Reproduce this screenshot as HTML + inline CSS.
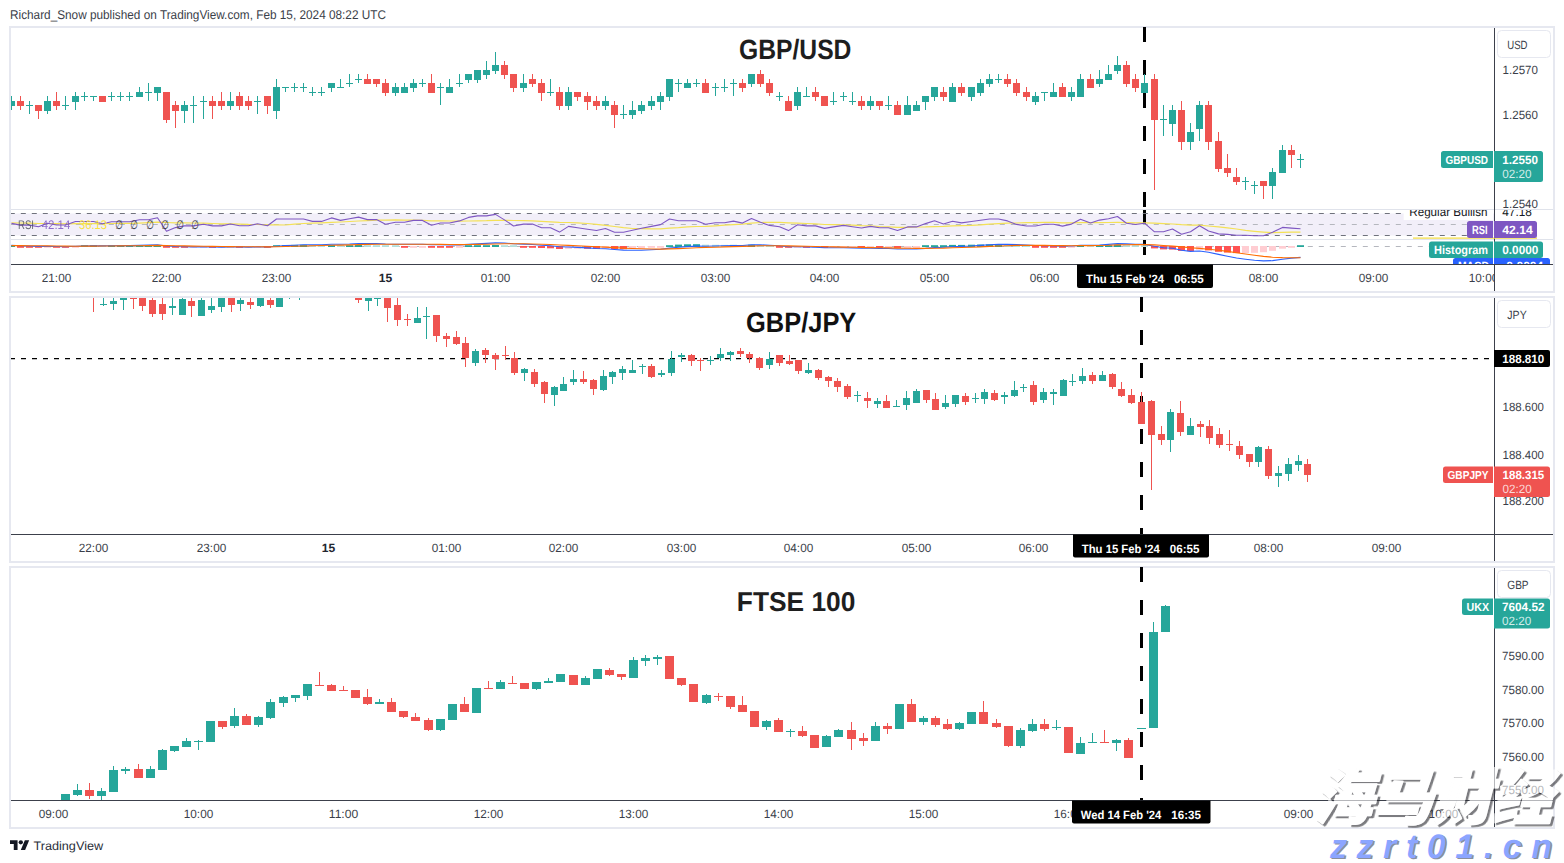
<!DOCTYPE html>
<html lang="en"><head><meta charset="utf-8"><title>GBP/USD, GBP/JPY, FTSE 100 - TradingView</title>
<style>html,body{margin:0;padding:0;background:#fff}svg{display:block}text{text-rendering:geometricPrecision}</style></head>
<body>
<svg width="1564" height="863" viewBox="0 0 1564 863" font-family='"Liberation Sans", sans-serif'>
<rect width="1564" height="863" fill="#fff"/>
<defs>
<clipPath id="c1"><rect x="11" y="28" width="1483" height="181"/></clipPath>
<clipPath id="c1r"><rect x="11" y="210" width="1483" height="29"/></clipPath>
<clipPath id="c1m"><rect x="11" y="240" width="1483" height="24"/></clipPath>
<clipPath id="c1a"><rect x="1495" y="28" width="58" height="181.5"/></clipPath>
<clipPath id="c1ra"><rect x="1400" y="210" width="153" height="29.5"/></clipPath>
<clipPath id="c1ma"><rect x="1400" y="240" width="153" height="24"/></clipPath>
<clipPath id="c1t"><rect x="11" y="265" width="1483" height="26"/></clipPath>
<clipPath id="c2"><rect x="11" y="298" width="1483" height="236"/></clipPath>
<clipPath id="c2t"><rect x="11" y="535" width="1483" height="26"/></clipPath>
<clipPath id="c3t"><rect x="11" y="801" width="1483" height="26"/></clipPath>
<clipPath id="c3"><rect x="11" y="568" width="1483" height="232"/></clipPath>
</defs>
<text x="10.0" y="19.2" font-size="12.6" fill="#3a3e48" textLength="376.0" lengthAdjust="spacingAndGlyphs">Richard_Snow published on TradingView.com, Feb 15, 2024 08:22 UTC</text>
<rect x="10" y="27" width="1544" height="265" fill="#fff" stroke="#e6e8f0" stroke-width="2"/>
<rect x="11" y="209" width="1542" height="1" fill="#e0e3eb"/>
<rect x="11" y="239" width="1542" height="1" fill="#e0e3eb"/>
<rect x="11" y="213.5" width="1483" height="22" fill="#f2eff9"/>
<rect x="1143" y="210" width="3" height="15" fill="#000"/>
<rect x="1143" y="240" width="3" height="15" fill="#000"/>
<g clip-path="url(#c1r)">
<line x1="11" y1="213.5" x2="1494" y2="213.5" stroke="#6f727c" stroke-width="1" stroke-dasharray="5 6" stroke-dashoffset="1.2"/>
<line x1="11" y1="224.5" x2="1494" y2="224.5" stroke="#b5b7be" stroke-width="1" stroke-dasharray="5 6" stroke-dashoffset="1.2"/>
<line x1="11" y1="235.5" x2="1494" y2="235.5" stroke="#6f727c" stroke-width="1" stroke-dasharray="5 6" stroke-dashoffset="1.2"/>
</g>
<g clip-path="url(#c1r)" fill="none" stroke-linejoin="round">
<polyline points="11.5,222.9 20.5,223.0 29.5,223.2 38.5,223.5 47.5,223.5 56.5,223.7 65.5,223.8 75.5,223.7 84.5,223.6 93.5,223.5 102.5,223.6 111.5,223.5 120.5,223.4 129.5,223.4 139.5,223.1 148.5,222.7 157.5,222.2 166.5,222.5 175.5,222.8 184.5,222.9 193.5,223.0 203.5,223.2 212.5,223.5 221.5,223.8 230.5,223.8 239.5,224.1 248.5,224.4 257.5,224.5 267.5,224.9 276.5,224.9 285.5,225.0 294.5,224.1 303.5,223.5 312.5,223.2 321.5,222.8 331.5,222.4 340.5,222.0 349.5,221.5 358.5,221.0 367.5,220.6 376.5,220.1 385.5,220.2 395.5,219.9 404.5,220.1 413.5,220.2 422.5,220.3 431.5,220.8 440.5,220.9 449.5,221.0 459.5,221.2 468.5,221.0 477.5,220.8 486.5,220.7 495.5,220.4 504.5,220.4 513.5,220.5 523.5,220.6 532.5,220.8 541.5,221.3 550.5,221.8 559.5,222.3 568.5,222.5 577.5,222.9 587.5,223.5 596.5,224.4 605.5,225.3 614.5,226.5 623.5,227.7 632.5,228.5 641.5,228.6 651.5,228.8 660.5,228.9 669.5,228.2 678.5,227.7 687.5,226.9 696.5,226.5 705.5,226.3 715.5,225.8 724.5,225.2 733.5,224.7 742.5,224.1 751.5,223.1 760.5,222.5 769.5,222.3 779.5,222.3 788.5,222.8 797.5,223.2 806.5,223.5 815.5,223.9 824.5,224.5 833.5,224.6 843.5,224.8 852.5,225.1 861.5,225.6 870.5,225.8 879.5,226.5 888.5,226.9 897.5,227.3 907.5,227.3 916.5,227.0 925.5,226.9 934.5,226.6 943.5,226.4 952.5,225.9 961.5,225.6 971.5,225.4 980.5,224.9 989.5,224.2 998.5,223.7 1007.5,223.2 1016.5,223.0 1026.5,222.7 1035.5,222.6 1044.5,222.4 1053.5,222.4 1062.5,222.8 1071.5,222.8 1080.5,222.7 1090.5,222.7 1099.5,222.6 1108.5,222.5 1117.5,222.3 1126.5,222.6 1135.5,222.9 1144.5,222.8 1154.5,223.2 1163.5,223.6 1172.5,224.0 1181.5,224.7 1190.5,225.1 1199.5,225.2 1208.5,226.0 1218.5,226.8 1227.5,227.8 1236.5,229.0 1245.5,230.4 1254.5,231.3 1263.5,232.1 1272.5,232.7 1282.5,232.4 1291.5,232.1 1300.5,232.1" stroke="#f4e156" stroke-width="1.2"/>
<polyline points="11.5,223.4 20.5,225.1 29.5,225.1 38.5,226.8 47.5,223.2 56.5,225.0 65.5,225.0 75.5,221.5 84.5,221.5 93.5,221.5 102.5,223.7 111.5,221.8 120.5,221.8 129.5,221.8 139.5,219.8 148.5,219.8 157.5,217.8 166.5,231.3 175.5,227.6 184.5,225.9 193.5,225.9 203.5,224.2 212.5,225.9 221.5,225.9 230.5,224.0 239.5,225.8 248.5,225.8 257.5,223.8 267.5,225.8 276.5,219.0 285.5,219.0 294.5,219.0 303.5,219.0 312.5,221.4 321.5,221.4 331.5,217.9 340.5,220.4 349.5,218.7 358.5,217.1 367.5,219.6 376.5,219.6 385.5,224.3 395.5,222.3 404.5,222.3 413.5,220.4 422.5,220.4 431.5,225.2 440.5,223.0 449.5,223.0 459.5,220.9 468.5,217.4 477.5,215.9 486.5,215.9 495.5,214.4 504.5,219.9 513.5,226.0 523.5,224.1 532.5,224.1 541.5,227.7 550.5,227.7 559.5,232.1 568.5,226.4 577.5,227.8 587.5,229.2 596.5,230.5 605.5,228.5 614.5,232.2 623.5,232.2 632.5,230.2 641.5,228.3 651.5,226.4 660.5,224.6 669.5,219.0 678.5,220.7 687.5,220.7 696.5,220.7 705.5,224.3 715.5,222.7 724.5,222.7 733.5,221.1 742.5,223.1 751.5,218.6 760.5,222.3 769.5,225.4 779.5,226.8 788.5,230.6 797.5,224.7 806.5,225.9 815.5,225.9 824.5,228.4 833.5,226.9 843.5,225.4 852.5,226.7 861.5,228.0 870.5,226.4 879.5,227.8 888.5,227.8 897.5,230.5 907.5,226.9 916.5,226.9 925.5,223.6 934.5,220.8 943.5,224.0 952.5,221.3 961.5,222.9 971.5,221.5 980.5,220.2 989.5,219.0 998.5,219.0 1007.5,220.9 1016.5,224.4 1026.5,226.0 1035.5,226.0 1044.5,224.2 1053.5,224.2 1062.5,226.1 1071.5,224.1 1080.5,219.2 1090.5,223.0 1099.5,220.1 1108.5,218.8 1117.5,216.5 1126.5,223.2 1135.5,224.5 1144.5,223.2 1154.5,231.8 1163.5,231.8 1172.5,229.0 1181.5,234.3 1190.5,231.8 1199.5,225.7 1208.5,231.0 1218.5,233.9 1227.5,234.4 1236.5,235.3 1245.5,235.3 1254.5,235.7 1263.5,235.7 1272.5,232.3 1282.5,227.4 1291.5,228.1 1300.5,228.8" stroke="#7e57c2" stroke-width="1.1"/>
</g>
<g clip-path="url(#c1m)">
<line x1="11" y1="246.5" x2="1494" y2="246.5" stroke="#b5b7be" stroke-width="1" stroke-dasharray="5 6" stroke-dashoffset="1.2"/>
<rect x="8" y="245.2" width="7" height="1.8" fill="#26a69a"/>
<rect x="17" y="246.0" width="7" height="1.8" fill="#ff5252"/>
<rect x="26" y="246.0" width="7" height="1.8" fill="#ff5252"/>
<rect x="35" y="246.0" width="7" height="1.8" fill="#ff5252"/>
<rect x="44" y="246.0" width="7" height="1.8" fill="#ffcdd2"/>
<rect x="53" y="246.0" width="7" height="1.8" fill="#ff5252"/>
<rect x="62" y="246.0" width="7" height="1.8" fill="#ff5252"/>
<rect x="72" y="246.0" width="7" height="1.8" fill="#ffcdd2"/>
<rect x="81" y="245.2" width="7" height="1.8" fill="#26a69a"/>
<rect x="90" y="245.2" width="7" height="1.8" fill="#26a69a"/>
<rect x="99" y="245.2" width="7" height="1.8" fill="#b2dfdb"/>
<rect x="108" y="245.2" width="7" height="1.8" fill="#26a69a"/>
<rect x="117" y="245.2" width="7" height="1.8" fill="#26a69a"/>
<rect x="126" y="245.2" width="7" height="1.8" fill="#26a69a"/>
<rect x="136" y="245.2" width="7" height="1.8" fill="#26a69a"/>
<rect x="145" y="245.2" width="7" height="1.8" fill="#26a69a"/>
<rect x="154" y="245.2" width="7" height="1.8" fill="#26a69a"/>
<rect x="163" y="246.0" width="7" height="1.8" fill="#ff5252"/>
<rect x="172" y="246.0" width="7" height="1.8" fill="#ff5252"/>
<rect x="181" y="246.0" width="7" height="1.8" fill="#ff5252"/>
<rect x="190" y="246.0" width="7" height="1.8" fill="#ffcdd2"/>
<rect x="200" y="246.0" width="7" height="1.8" fill="#ffcdd2"/>
<rect x="209" y="246.0" width="7" height="1.8" fill="#ff5252"/>
<rect x="218" y="246.0" width="7" height="1.8" fill="#ffcdd2"/>
<rect x="227" y="246.0" width="7" height="1.8" fill="#ffcdd2"/>
<rect x="236" y="246.0" width="7" height="1.8" fill="#ff5252"/>
<rect x="245" y="246.0" width="7" height="1.8" fill="#ffcdd2"/>
<rect x="254" y="246.0" width="7" height="1.8" fill="#ffcdd2"/>
<rect x="264" y="246.0" width="7" height="1.8" fill="#ff5252"/>
<rect x="273" y="245.2" width="7" height="1.8" fill="#26a69a"/>
<rect x="282" y="245.1" width="7" height="1.9" fill="#26a69a"/>
<rect x="291" y="244.9" width="7" height="2.1" fill="#26a69a"/>
<rect x="300" y="244.8" width="7" height="2.2" fill="#26a69a"/>
<rect x="309" y="245.1" width="7" height="1.9" fill="#b2dfdb"/>
<rect x="318" y="245.2" width="7" height="1.8" fill="#b2dfdb"/>
<rect x="328" y="245.1" width="7" height="1.9" fill="#26a69a"/>
<rect x="337" y="245.2" width="7" height="1.8" fill="#b2dfdb"/>
<rect x="346" y="245.2" width="7" height="1.8" fill="#26a69a"/>
<rect x="355" y="245.0" width="7" height="2.0" fill="#26a69a"/>
<rect x="364" y="245.2" width="7" height="1.8" fill="#b2dfdb"/>
<rect x="373" y="245.2" width="7" height="1.8" fill="#b2dfdb"/>
<rect x="382" y="245.2" width="7" height="1.8" fill="#b2dfdb"/>
<rect x="392" y="245.2" width="7" height="1.8" fill="#b2dfdb"/>
<rect x="401" y="246.0" width="7" height="1.8" fill="#ff5252"/>
<rect x="410" y="246.0" width="7" height="1.8" fill="#ffcdd2"/>
<rect x="419" y="246.0" width="7" height="1.8" fill="#ffcdd2"/>
<rect x="428" y="246.0" width="7" height="1.8" fill="#ff5252"/>
<rect x="437" y="246.0" width="7" height="1.8" fill="#ff5252"/>
<rect x="446" y="246.0" width="7" height="1.8" fill="#ff5252"/>
<rect x="456" y="246.0" width="7" height="1.8" fill="#ffcdd2"/>
<rect x="465" y="245.2" width="7" height="1.8" fill="#26a69a"/>
<rect x="474" y="245.2" width="7" height="1.8" fill="#26a69a"/>
<rect x="483" y="245.2" width="7" height="1.8" fill="#26a69a"/>
<rect x="492" y="245.0" width="7" height="2.0" fill="#26a69a"/>
<rect x="501" y="245.2" width="7" height="1.8" fill="#b2dfdb"/>
<rect x="510" y="245.2" width="7" height="1.8" fill="#b2dfdb"/>
<rect x="520" y="246.0" width="7" height="1.8" fill="#ff5252"/>
<rect x="529" y="246.0" width="7" height="1.8" fill="#ff5252"/>
<rect x="538" y="246.0" width="7" height="2.0" fill="#ff5252"/>
<rect x="547" y="246.0" width="7" height="2.3" fill="#ff5252"/>
<rect x="556" y="246.0" width="7" height="3.0" fill="#ff5252"/>
<rect x="565" y="246.0" width="7" height="2.8" fill="#ffcdd2"/>
<rect x="574" y="246.0" width="7" height="2.7" fill="#ffcdd2"/>
<rect x="584" y="246.0" width="7" height="2.8" fill="#ff5252"/>
<rect x="593" y="246.0" width="7" height="3.0" fill="#ff5252"/>
<rect x="602" y="246.0" width="7" height="2.8" fill="#ffcdd2"/>
<rect x="611" y="246.0" width="7" height="3.1" fill="#ff5252"/>
<rect x="620" y="246.0" width="7" height="3.2" fill="#ff5252"/>
<rect x="629" y="246.0" width="7" height="2.9" fill="#ffcdd2"/>
<rect x="638" y="246.0" width="7" height="2.4" fill="#ffcdd2"/>
<rect x="648" y="246.0" width="7" height="1.8" fill="#ffcdd2"/>
<rect x="657" y="246.0" width="7" height="1.8" fill="#ffcdd2"/>
<rect x="666" y="245.2" width="7" height="1.8" fill="#26a69a"/>
<rect x="675" y="244.6" width="7" height="2.4" fill="#26a69a"/>
<rect x="684" y="244.3" width="7" height="2.7" fill="#26a69a"/>
<rect x="693" y="244.2" width="7" height="2.8" fill="#26a69a"/>
<rect x="702" y="244.7" width="7" height="2.3" fill="#b2dfdb"/>
<rect x="712" y="244.8" width="7" height="2.2" fill="#b2dfdb"/>
<rect x="721" y="244.9" width="7" height="2.1" fill="#b2dfdb"/>
<rect x="730" y="244.9" width="7" height="2.1" fill="#26a69a"/>
<rect x="739" y="245.1" width="7" height="1.9" fill="#b2dfdb"/>
<rect x="748" y="244.7" width="7" height="2.3" fill="#26a69a"/>
<rect x="757" y="245.0" width="7" height="2.0" fill="#b2dfdb"/>
<rect x="766" y="245.2" width="7" height="1.8" fill="#b2dfdb"/>
<rect x="776" y="246.0" width="7" height="1.8" fill="#ff5252"/>
<rect x="785" y="246.0" width="7" height="1.8" fill="#ff5252"/>
<rect x="794" y="246.0" width="7" height="1.8" fill="#ffcdd2"/>
<rect x="803" y="246.0" width="7" height="1.8" fill="#ff5252"/>
<rect x="812" y="246.0" width="7" height="1.8" fill="#ffcdd2"/>
<rect x="821" y="246.0" width="7" height="2.0" fill="#ff5252"/>
<rect x="830" y="246.0" width="7" height="1.9" fill="#ffcdd2"/>
<rect x="840" y="246.0" width="7" height="1.8" fill="#ffcdd2"/>
<rect x="849" y="246.0" width="7" height="1.8" fill="#ffcdd2"/>
<rect x="858" y="246.0" width="7" height="1.8" fill="#ff5252"/>
<rect x="867" y="246.0" width="7" height="1.8" fill="#ffcdd2"/>
<rect x="876" y="246.0" width="7" height="1.8" fill="#ff5252"/>
<rect x="885" y="246.0" width="7" height="1.8" fill="#ffcdd2"/>
<rect x="894" y="246.0" width="7" height="1.9" fill="#ff5252"/>
<rect x="904" y="246.0" width="7" height="1.8" fill="#ffcdd2"/>
<rect x="913" y="246.0" width="7" height="1.8" fill="#ffcdd2"/>
<rect x="922" y="245.2" width="7" height="1.8" fill="#26a69a"/>
<rect x="931" y="245.2" width="7" height="1.8" fill="#26a69a"/>
<rect x="940" y="245.2" width="7" height="1.8" fill="#26a69a"/>
<rect x="949" y="244.9" width="7" height="2.1" fill="#26a69a"/>
<rect x="958" y="244.9" width="7" height="2.1" fill="#26a69a"/>
<rect x="968" y="244.7" width="7" height="2.3" fill="#26a69a"/>
<rect x="977" y="244.5" width="7" height="2.5" fill="#26a69a"/>
<rect x="986" y="244.3" width="7" height="2.7" fill="#26a69a"/>
<rect x="995" y="244.2" width="7" height="2.8" fill="#26a69a"/>
<rect x="1004" y="244.5" width="7" height="2.5" fill="#b2dfdb"/>
<rect x="1013" y="245.1" width="7" height="1.9" fill="#b2dfdb"/>
<rect x="1023" y="245.2" width="7" height="1.8" fill="#b2dfdb"/>
<rect x="1032" y="246.0" width="7" height="1.8" fill="#ff5252"/>
<rect x="1041" y="246.0" width="7" height="1.8" fill="#ff5252"/>
<rect x="1050" y="246.0" width="7" height="1.8" fill="#ff5252"/>
<rect x="1059" y="246.0" width="7" height="1.8" fill="#ff5252"/>
<rect x="1068" y="246.0" width="7" height="1.8" fill="#ffcdd2"/>
<rect x="1077" y="245.2" width="7" height="1.8" fill="#26a69a"/>
<rect x="1087" y="245.2" width="7" height="1.8" fill="#b2dfdb"/>
<rect x="1096" y="245.2" width="7" height="1.8" fill="#26a69a"/>
<rect x="1105" y="245.2" width="7" height="1.8" fill="#26a69a"/>
<rect x="1114" y="244.6" width="7" height="2.4" fill="#26a69a"/>
<rect x="1123" y="245.2" width="7" height="1.8" fill="#b2dfdb"/>
<rect x="1132" y="245.2" width="7" height="1.8" fill="#b2dfdb"/>
<rect x="1141" y="245.2" width="7" height="1.8" fill="#b2dfdb"/>
<rect x="1151" y="246.0" width="7" height="2.4" fill="#ff5252"/>
<rect x="1160" y="246.0" width="7" height="3.4" fill="#ff5252"/>
<rect x="1169" y="246.0" width="7" height="3.6" fill="#ff5252"/>
<rect x="1178" y="246.0" width="7" height="4.9" fill="#ff5252"/>
<rect x="1187" y="246.0" width="7" height="5.1" fill="#ff5252"/>
<rect x="1196" y="246.0" width="7" height="3.8" fill="#ffcdd2"/>
<rect x="1205" y="246.0" width="7" height="4.4" fill="#ff5252"/>
<rect x="1215" y="246.0" width="7" height="5.8" fill="#ff5252"/>
<rect x="1224" y="246.0" width="7" height="6.6" fill="#ff5252"/>
<rect x="1233" y="246.0" width="7" height="7.1" fill="#ff5252"/>
<rect x="1242" y="246.0" width="7" height="7.0" fill="#ffcdd2"/>
<rect x="1251" y="246.0" width="7" height="6.8" fill="#ffcdd2"/>
<rect x="1260" y="246.0" width="7" height="6.2" fill="#ffcdd2"/>
<rect x="1269" y="246.0" width="7" height="4.8" fill="#ffcdd2"/>
<rect x="1279" y="246.0" width="7" height="2.7" fill="#ffcdd2"/>
<rect x="1288" y="246.0" width="7" height="1.8" fill="#ffcdd2"/>
<rect x="1297" y="245.2" width="7" height="1.8" fill="#26a69a"/>
<polyline points="11.5,245.3 20.5,245.7 29.5,246.0 38.5,246.4 47.5,246.3 56.5,246.5 65.5,246.6 75.5,246.3 84.5,246.0 93.5,245.8 102.5,245.9 111.5,245.7 120.5,245.6 129.5,245.6 139.5,245.3 148.5,245.1 157.5,244.8 166.5,246.0 175.5,246.5 184.5,246.7 193.5,246.9 203.5,246.8 212.5,247.0 221.5,247.1 230.5,246.9 239.5,247.0 248.5,247.1 257.5,246.9 267.5,247.0 276.5,246.2 285.5,245.6 294.5,245.2 303.5,244.8 312.5,244.8 321.5,244.7 331.5,244.3 340.5,244.2 349.5,244.0 358.5,243.6 367.5,243.6 376.5,243.5 385.5,244.0 395.5,244.2 404.5,244.3 413.5,244.3 422.5,244.2 431.5,244.7 440.5,244.8 449.5,244.9 459.5,244.9 468.5,244.4 477.5,243.8 486.5,243.4 495.5,242.9 504.5,243.0 513.5,243.7 523.5,244.1 532.5,244.5 541.5,245.2 550.5,245.7 559.5,246.8 568.5,247.0 577.5,247.4 587.5,247.9 596.5,248.5 605.5,248.7 614.5,249.5 623.5,250.1 632.5,250.3 641.5,250.2 651.5,249.8 660.5,249.3 669.5,248.1 678.5,247.3 687.5,246.6 696.5,246.1 705.5,246.2 715.5,246.0 724.5,245.8 733.5,245.5 742.5,245.5 751.5,244.9 760.5,244.8 769.5,245.2 779.5,245.7 788.5,246.8 797.5,246.8 806.5,247.0 815.5,247.1 824.5,247.7 833.5,247.8 843.5,247.8 852.5,247.9 861.5,248.2 870.5,248.2 879.5,248.4 888.5,248.5 897.5,249.0 907.5,249.0 916.5,248.9 925.5,248.4 934.5,247.6 943.5,247.3 952.5,246.7 961.5,246.4 971.5,246.0 980.5,245.4 989.5,244.8 998.5,244.4 1007.5,244.2 1016.5,244.6 1026.5,245.1 1035.5,245.5 1044.5,245.6 1053.5,245.7 1062.5,246.0 1071.5,246.0 1080.5,245.4 1090.5,245.4 1099.5,245.0 1108.5,244.4 1117.5,243.6 1126.5,243.9 1135.5,244.3 1144.5,244.4 1154.5,246.2 1163.5,247.7 1172.5,248.3 1181.5,250.3 1190.5,251.4 1199.5,251.0 1208.5,252.2 1218.5,254.4 1227.5,256.2 1236.5,258.0 1245.5,259.2 1254.5,260.2 1263.5,260.9 1272.5,260.6 1282.5,259.2 1291.5,258.1 1300.5,257.4" fill="none" stroke="#2962ff" stroke-width="1.1"/>
<polyline points="11.5,245.6 20.5,245.6 29.5,245.7 38.5,245.8 47.5,245.9 56.5,246.0 65.5,246.1 75.5,246.2 84.5,246.1 93.5,246.1 102.5,246.0 111.5,246.0 120.5,245.9 129.5,245.8 139.5,245.7 148.5,245.6 157.5,245.4 166.5,245.6 175.5,245.7 184.5,245.9 193.5,246.1 203.5,246.3 212.5,246.4 221.5,246.5 230.5,246.6 239.5,246.7 248.5,246.8 257.5,246.8 267.5,246.9 276.5,246.7 285.5,246.5 294.5,246.2 303.5,246.0 312.5,245.7 321.5,245.5 331.5,245.3 340.5,245.1 349.5,244.9 358.5,244.6 367.5,244.4 376.5,244.2 385.5,244.2 395.5,244.2 404.5,244.2 413.5,244.2 422.5,244.2 431.5,244.3 440.5,244.4 449.5,244.5 459.5,244.6 468.5,244.5 477.5,244.4 486.5,244.2 495.5,244.0 504.5,243.8 513.5,243.8 523.5,243.8 532.5,244.0 541.5,244.2 550.5,244.5 559.5,245.0 568.5,245.4 577.5,245.8 587.5,246.2 596.5,246.7 605.5,247.1 614.5,247.6 623.5,248.1 632.5,248.5 641.5,248.8 651.5,249.0 660.5,249.1 669.5,248.9 678.5,248.6 687.5,248.2 696.5,247.8 705.5,247.4 715.5,247.2 724.5,246.9 733.5,246.6 742.5,246.4 751.5,246.1 760.5,245.8 769.5,245.7 779.5,245.7 788.5,245.9 797.5,246.1 806.5,246.3 815.5,246.5 824.5,246.7 833.5,246.9 843.5,247.1 852.5,247.3 861.5,247.4 870.5,247.6 879.5,247.8 888.5,247.9 897.5,248.1 907.5,248.3 916.5,248.4 925.5,248.4 934.5,248.2 943.5,248.1 952.5,247.8 961.5,247.5 971.5,247.2 980.5,246.9 989.5,246.4 998.5,246.0 1007.5,245.7 1016.5,245.4 1026.5,245.4 1035.5,245.4 1044.5,245.4 1053.5,245.5 1062.5,245.6 1071.5,245.7 1080.5,245.6 1090.5,245.6 1099.5,245.5 1108.5,245.3 1117.5,244.9 1126.5,244.7 1135.5,244.6 1144.5,244.6 1154.5,244.9 1163.5,245.5 1172.5,246.0 1181.5,246.9 1190.5,247.8 1199.5,248.4 1208.5,249.2 1218.5,250.2 1227.5,251.4 1236.5,252.7 1245.5,254.0 1254.5,255.3 1263.5,256.4 1272.5,257.2 1282.5,257.6 1291.5,257.7 1300.5,257.7" fill="none" stroke="#ff6d00" stroke-width="1.1"/>
</g>
<text x="18.0" y="229.3" font-size="12.5" fill="#50535e" textLength="16.0" lengthAdjust="spacingAndGlyphs" opacity="0.85">RSI</text>
<text x="41.7" y="229.3" font-size="12.5" fill="#7e57c2" textLength="28.6" lengthAdjust="spacingAndGlyphs" opacity="0.85">42.14</text>
<text x="79.0" y="229.3" font-size="12.5" fill="#f9e23e" textLength="28.0" lengthAdjust="spacingAndGlyphs">36.13</text>
<text x="115.2" y="229.4" font-size="12.5" fill="#3c3f4a" textLength="7.6" lengthAdjust="spacingAndGlyphs">∅</text>
<text x="130.2" y="229.4" font-size="12.5" fill="#3c3f4a" textLength="7.6" lengthAdjust="spacingAndGlyphs">∅</text>
<text x="146.2" y="229.4" font-size="12.5" fill="#3c3f4a" textLength="7.6" lengthAdjust="spacingAndGlyphs">∅</text>
<text x="161.2" y="229.4" font-size="12.5" fill="#3c3f4a" textLength="7.6" lengthAdjust="spacingAndGlyphs">∅</text>
<text x="176.2" y="229.4" font-size="12.5" fill="#3c3f4a" textLength="7.6" lengthAdjust="spacingAndGlyphs">∅</text>
<text x="191.2" y="229.4" font-size="12.5" fill="#3c3f4a" textLength="7.6" lengthAdjust="spacingAndGlyphs">∅</text>
<rect x="1143" y="27" width="3" height="15" fill="#000"/>
<rect x="1143" y="60" width="3" height="15" fill="#000"/>
<rect x="1143" y="93" width="3" height="15" fill="#000"/>
<rect x="1143" y="126" width="3" height="15" fill="#000"/>
<rect x="1143" y="159" width="3" height="15" fill="#000"/>
<rect x="1143" y="192" width="3" height="15" fill="#000"/>
<g clip-path="url(#c1)">
<rect x="11" y="96" width="1" height="14" fill="#26a69a"/>
<rect x="8" y="101" width="7" height="5" fill="#26a69a"/>
<rect x="20" y="96" width="1" height="14" fill="#ef5350"/>
<rect x="17" y="101" width="7" height="5" fill="#ef5350"/>
<rect x="29" y="101" width="1" height="13" fill="#26a69a"/>
<rect x="26" y="105" width="7" height="1" fill="#26a69a"/>
<rect x="38" y="105" width="1" height="14" fill="#ef5350"/>
<rect x="35" y="105" width="7" height="6" fill="#ef5350"/>
<rect x="47" y="96" width="1" height="18" fill="#26a69a"/>
<rect x="44" y="101" width="7" height="10" fill="#26a69a"/>
<rect x="56" y="92" width="1" height="18" fill="#ef5350"/>
<rect x="53" y="101" width="7" height="5" fill="#ef5350"/>
<rect x="65" y="96" width="1" height="14" fill="#26a69a"/>
<rect x="62" y="105" width="7" height="1" fill="#26a69a"/>
<rect x="75" y="92" width="1" height="18" fill="#26a69a"/>
<rect x="72" y="96" width="7" height="6" fill="#26a69a"/>
<rect x="84" y="92" width="1" height="9" fill="#26a69a"/>
<rect x="81" y="96" width="7" height="1" fill="#26a69a"/>
<rect x="93" y="96" width="1" height="5" fill="#26a69a"/>
<rect x="90" y="96" width="7" height="1" fill="#26a69a"/>
<rect x="102" y="96" width="1" height="5" fill="#ef5350"/>
<rect x="99" y="96" width="7" height="6" fill="#ef5350"/>
<rect x="111" y="92" width="1" height="9" fill="#26a69a"/>
<rect x="108" y="96" width="7" height="1" fill="#26a69a"/>
<rect x="120" y="92" width="1" height="9" fill="#26a69a"/>
<rect x="117" y="96" width="7" height="1" fill="#26a69a"/>
<rect x="129" y="92" width="1" height="9" fill="#26a69a"/>
<rect x="126" y="96" width="7" height="1" fill="#26a69a"/>
<rect x="139" y="87" width="1" height="9" fill="#26a69a"/>
<rect x="136" y="92" width="7" height="5" fill="#26a69a"/>
<rect x="148" y="83" width="1" height="18" fill="#26a69a"/>
<rect x="145" y="92" width="7" height="1" fill="#26a69a"/>
<rect x="157" y="87" width="1" height="14" fill="#26a69a"/>
<rect x="154" y="87" width="7" height="6" fill="#26a69a"/>
<rect x="166" y="92" width="1" height="31" fill="#ef5350"/>
<rect x="163" y="92" width="7" height="28" fill="#ef5350"/>
<rect x="175" y="101" width="1" height="27" fill="#ef5350"/>
<rect x="172" y="105" width="7" height="6" fill="#ef5350"/>
<rect x="184" y="101" width="1" height="22" fill="#26a69a"/>
<rect x="181" y="105" width="7" height="6" fill="#26a69a"/>
<rect x="193" y="96" width="1" height="27" fill="#26a69a"/>
<rect x="190" y="105" width="7" height="1" fill="#26a69a"/>
<rect x="203" y="96" width="1" height="23" fill="#26a69a"/>
<rect x="200" y="101" width="7" height="1" fill="#26a69a"/>
<rect x="212" y="96" width="1" height="23" fill="#ef5350"/>
<rect x="209" y="101" width="7" height="5" fill="#ef5350"/>
<rect x="221" y="92" width="1" height="18" fill="#ef5350"/>
<rect x="218" y="101" width="7" height="5" fill="#ef5350"/>
<rect x="230" y="92" width="1" height="18" fill="#26a69a"/>
<rect x="227" y="101" width="7" height="5" fill="#26a69a"/>
<rect x="239" y="92" width="1" height="18" fill="#ef5350"/>
<rect x="236" y="96" width="7" height="10" fill="#ef5350"/>
<rect x="248" y="96" width="1" height="14" fill="#ef5350"/>
<rect x="245" y="101" width="7" height="5" fill="#ef5350"/>
<rect x="257" y="96" width="1" height="18" fill="#26a69a"/>
<rect x="254" y="101" width="7" height="1" fill="#26a69a"/>
<rect x="267" y="96" width="1" height="18" fill="#ef5350"/>
<rect x="264" y="96" width="7" height="10" fill="#ef5350"/>
<rect x="276" y="79" width="1" height="40" fill="#26a69a"/>
<rect x="273" y="87" width="7" height="24" fill="#26a69a"/>
<rect x="285" y="87" width="1" height="5" fill="#26a69a"/>
<rect x="282" y="87" width="7" height="1" fill="#26a69a"/>
<rect x="294" y="83" width="1" height="9" fill="#26a69a"/>
<rect x="291" y="87" width="7" height="1" fill="#26a69a"/>
<rect x="303" y="83" width="1" height="9" fill="#26a69a"/>
<rect x="300" y="87" width="7" height="1" fill="#26a69a"/>
<rect x="312" y="87" width="1" height="9" fill="#26a69a"/>
<rect x="309" y="92" width="7" height="1" fill="#26a69a"/>
<rect x="321" y="87" width="1" height="9" fill="#26a69a"/>
<rect x="318" y="92" width="7" height="1" fill="#26a69a"/>
<rect x="331" y="83" width="1" height="9" fill="#26a69a"/>
<rect x="328" y="83" width="7" height="5" fill="#26a69a"/>
<rect x="340" y="79" width="1" height="8" fill="#26a69a"/>
<rect x="337" y="87" width="7" height="1" fill="#26a69a"/>
<rect x="349" y="74" width="1" height="13" fill="#26a69a"/>
<rect x="346" y="83" width="7" height="1" fill="#26a69a"/>
<rect x="358" y="74" width="1" height="9" fill="#26a69a"/>
<rect x="355" y="79" width="7" height="1" fill="#26a69a"/>
<rect x="367" y="74" width="1" height="9" fill="#ef5350"/>
<rect x="364" y="79" width="7" height="5" fill="#ef5350"/>
<rect x="376" y="79" width="1" height="8" fill="#ef5350"/>
<rect x="373" y="79" width="7" height="5" fill="#ef5350"/>
<rect x="385" y="79" width="1" height="17" fill="#ef5350"/>
<rect x="382" y="83" width="7" height="10" fill="#ef5350"/>
<rect x="395" y="83" width="1" height="13" fill="#26a69a"/>
<rect x="392" y="87" width="7" height="6" fill="#26a69a"/>
<rect x="404" y="83" width="1" height="9" fill="#26a69a"/>
<rect x="401" y="87" width="7" height="6" fill="#26a69a"/>
<rect x="413" y="79" width="1" height="13" fill="#26a69a"/>
<rect x="410" y="83" width="7" height="5" fill="#26a69a"/>
<rect x="422" y="79" width="1" height="8" fill="#26a69a"/>
<rect x="419" y="83" width="7" height="1" fill="#26a69a"/>
<rect x="431" y="74" width="1" height="18" fill="#ef5350"/>
<rect x="428" y="83" width="7" height="10" fill="#ef5350"/>
<rect x="440" y="83" width="1" height="22" fill="#26a69a"/>
<rect x="437" y="87" width="7" height="1" fill="#26a69a"/>
<rect x="449" y="79" width="1" height="13" fill="#26a69a"/>
<rect x="446" y="87" width="7" height="6" fill="#26a69a"/>
<rect x="459" y="74" width="1" height="13" fill="#26a69a"/>
<rect x="456" y="83" width="7" height="1" fill="#26a69a"/>
<rect x="468" y="74" width="1" height="9" fill="#26a69a"/>
<rect x="465" y="74" width="7" height="6" fill="#26a69a"/>
<rect x="477" y="70" width="1" height="13" fill="#26a69a"/>
<rect x="474" y="70" width="7" height="10" fill="#26a69a"/>
<rect x="486" y="61" width="1" height="18" fill="#26a69a"/>
<rect x="483" y="70" width="7" height="5" fill="#26a69a"/>
<rect x="495" y="52" width="1" height="22" fill="#26a69a"/>
<rect x="492" y="65" width="7" height="6" fill="#26a69a"/>
<rect x="504" y="61" width="1" height="18" fill="#ef5350"/>
<rect x="501" y="65" width="7" height="10" fill="#ef5350"/>
<rect x="513" y="74" width="1" height="18" fill="#ef5350"/>
<rect x="510" y="74" width="7" height="14" fill="#ef5350"/>
<rect x="523" y="74" width="1" height="18" fill="#26a69a"/>
<rect x="520" y="83" width="7" height="5" fill="#26a69a"/>
<rect x="532" y="74" width="1" height="13" fill="#ef5350"/>
<rect x="529" y="79" width="7" height="5" fill="#ef5350"/>
<rect x="541" y="79" width="1" height="22" fill="#ef5350"/>
<rect x="538" y="83" width="7" height="10" fill="#ef5350"/>
<rect x="550" y="79" width="1" height="17" fill="#26a69a"/>
<rect x="547" y="92" width="7" height="1" fill="#26a69a"/>
<rect x="559" y="87" width="1" height="23" fill="#ef5350"/>
<rect x="556" y="92" width="7" height="14" fill="#ef5350"/>
<rect x="568" y="87" width="1" height="23" fill="#26a69a"/>
<rect x="565" y="92" width="7" height="14" fill="#26a69a"/>
<rect x="577" y="92" width="1" height="9" fill="#ef5350"/>
<rect x="574" y="92" width="7" height="5" fill="#ef5350"/>
<rect x="587" y="92" width="1" height="18" fill="#ef5350"/>
<rect x="584" y="96" width="7" height="6" fill="#ef5350"/>
<rect x="596" y="96" width="1" height="14" fill="#ef5350"/>
<rect x="593" y="101" width="7" height="5" fill="#ef5350"/>
<rect x="605" y="96" width="1" height="14" fill="#26a69a"/>
<rect x="602" y="101" width="7" height="5" fill="#26a69a"/>
<rect x="614" y="101" width="1" height="27" fill="#ef5350"/>
<rect x="611" y="105" width="7" height="10" fill="#ef5350"/>
<rect x="623" y="105" width="1" height="14" fill="#26a69a"/>
<rect x="620" y="114" width="7" height="1" fill="#26a69a"/>
<rect x="632" y="101" width="1" height="18" fill="#26a69a"/>
<rect x="629" y="110" width="7" height="5" fill="#26a69a"/>
<rect x="641" y="101" width="1" height="13" fill="#26a69a"/>
<rect x="638" y="105" width="7" height="6" fill="#26a69a"/>
<rect x="651" y="96" width="1" height="14" fill="#26a69a"/>
<rect x="648" y="101" width="7" height="5" fill="#26a69a"/>
<rect x="660" y="92" width="1" height="18" fill="#26a69a"/>
<rect x="657" y="96" width="7" height="6" fill="#26a69a"/>
<rect x="669" y="79" width="1" height="22" fill="#26a69a"/>
<rect x="666" y="79" width="7" height="18" fill="#26a69a"/>
<rect x="678" y="79" width="1" height="13" fill="#26a69a"/>
<rect x="675" y="83" width="7" height="1" fill="#26a69a"/>
<rect x="687" y="79" width="1" height="8" fill="#26a69a"/>
<rect x="684" y="83" width="7" height="5" fill="#26a69a"/>
<rect x="696" y="79" width="1" height="8" fill="#26a69a"/>
<rect x="693" y="83" width="7" height="1" fill="#26a69a"/>
<rect x="705" y="79" width="1" height="13" fill="#ef5350"/>
<rect x="702" y="83" width="7" height="10" fill="#ef5350"/>
<rect x="715" y="83" width="1" height="13" fill="#26a69a"/>
<rect x="712" y="87" width="7" height="1" fill="#26a69a"/>
<rect x="724" y="79" width="1" height="13" fill="#26a69a"/>
<rect x="721" y="87" width="7" height="1" fill="#26a69a"/>
<rect x="733" y="79" width="1" height="17" fill="#26a69a"/>
<rect x="730" y="83" width="7" height="1" fill="#26a69a"/>
<rect x="742" y="79" width="1" height="13" fill="#ef5350"/>
<rect x="739" y="83" width="7" height="5" fill="#ef5350"/>
<rect x="751" y="74" width="1" height="13" fill="#26a69a"/>
<rect x="748" y="74" width="7" height="10" fill="#26a69a"/>
<rect x="760" y="70" width="1" height="17" fill="#ef5350"/>
<rect x="757" y="74" width="7" height="10" fill="#ef5350"/>
<rect x="769" y="79" width="1" height="17" fill="#ef5350"/>
<rect x="766" y="83" width="7" height="10" fill="#ef5350"/>
<rect x="779" y="92" width="1" height="9" fill="#26a69a"/>
<rect x="776" y="96" width="7" height="1" fill="#26a69a"/>
<rect x="788" y="96" width="1" height="14" fill="#ef5350"/>
<rect x="785" y="101" width="7" height="10" fill="#ef5350"/>
<rect x="797" y="87" width="1" height="23" fill="#26a69a"/>
<rect x="794" y="92" width="7" height="14" fill="#26a69a"/>
<rect x="806" y="87" width="1" height="9" fill="#26a69a"/>
<rect x="803" y="96" width="7" height="1" fill="#26a69a"/>
<rect x="815" y="87" width="1" height="14" fill="#ef5350"/>
<rect x="812" y="92" width="7" height="5" fill="#ef5350"/>
<rect x="824" y="96" width="1" height="9" fill="#ef5350"/>
<rect x="821" y="96" width="7" height="10" fill="#ef5350"/>
<rect x="833" y="92" width="1" height="13" fill="#26a69a"/>
<rect x="830" y="101" width="7" height="1" fill="#26a69a"/>
<rect x="843" y="92" width="1" height="9" fill="#26a69a"/>
<rect x="840" y="96" width="7" height="1" fill="#26a69a"/>
<rect x="852" y="92" width="1" height="13" fill="#26a69a"/>
<rect x="849" y="101" width="7" height="1" fill="#26a69a"/>
<rect x="861" y="96" width="1" height="14" fill="#ef5350"/>
<rect x="858" y="101" width="7" height="5" fill="#ef5350"/>
<rect x="870" y="96" width="1" height="14" fill="#26a69a"/>
<rect x="867" y="101" width="7" height="5" fill="#26a69a"/>
<rect x="879" y="101" width="1" height="9" fill="#ef5350"/>
<rect x="876" y="101" width="7" height="5" fill="#ef5350"/>
<rect x="888" y="96" width="1" height="14" fill="#26a69a"/>
<rect x="885" y="105" width="7" height="1" fill="#26a69a"/>
<rect x="897" y="101" width="1" height="13" fill="#ef5350"/>
<rect x="894" y="105" width="7" height="10" fill="#ef5350"/>
<rect x="907" y="96" width="1" height="18" fill="#26a69a"/>
<rect x="904" y="105" width="7" height="10" fill="#26a69a"/>
<rect x="916" y="101" width="1" height="9" fill="#26a69a"/>
<rect x="913" y="105" width="7" height="6" fill="#26a69a"/>
<rect x="925" y="96" width="1" height="14" fill="#26a69a"/>
<rect x="922" y="96" width="7" height="6" fill="#26a69a"/>
<rect x="934" y="87" width="1" height="14" fill="#26a69a"/>
<rect x="931" y="87" width="7" height="10" fill="#26a69a"/>
<rect x="943" y="87" width="1" height="14" fill="#ef5350"/>
<rect x="940" y="92" width="7" height="5" fill="#ef5350"/>
<rect x="952" y="83" width="1" height="18" fill="#26a69a"/>
<rect x="949" y="87" width="7" height="15" fill="#26a69a"/>
<rect x="961" y="83" width="1" height="13" fill="#ef5350"/>
<rect x="958" y="87" width="7" height="6" fill="#ef5350"/>
<rect x="971" y="87" width="1" height="14" fill="#26a69a"/>
<rect x="968" y="87" width="7" height="10" fill="#26a69a"/>
<rect x="980" y="79" width="1" height="17" fill="#26a69a"/>
<rect x="977" y="83" width="7" height="10" fill="#26a69a"/>
<rect x="989" y="74" width="1" height="13" fill="#26a69a"/>
<rect x="986" y="79" width="7" height="5" fill="#26a69a"/>
<rect x="998" y="74" width="1" height="9" fill="#26a69a"/>
<rect x="995" y="79" width="7" height="1" fill="#26a69a"/>
<rect x="1007" y="74" width="1" height="13" fill="#ef5350"/>
<rect x="1004" y="79" width="7" height="5" fill="#ef5350"/>
<rect x="1016" y="79" width="1" height="17" fill="#ef5350"/>
<rect x="1013" y="83" width="7" height="10" fill="#ef5350"/>
<rect x="1026" y="87" width="1" height="14" fill="#ef5350"/>
<rect x="1023" y="92" width="7" height="5" fill="#ef5350"/>
<rect x="1035" y="92" width="1" height="13" fill="#26a69a"/>
<rect x="1032" y="96" width="7" height="6" fill="#26a69a"/>
<rect x="1044" y="92" width="1" height="9" fill="#26a69a"/>
<rect x="1041" y="92" width="7" height="1" fill="#26a69a"/>
<rect x="1053" y="83" width="1" height="13" fill="#26a69a"/>
<rect x="1050" y="92" width="7" height="5" fill="#26a69a"/>
<rect x="1062" y="83" width="1" height="13" fill="#ef5350"/>
<rect x="1059" y="87" width="7" height="10" fill="#ef5350"/>
<rect x="1071" y="87" width="1" height="14" fill="#26a69a"/>
<rect x="1068" y="92" width="7" height="5" fill="#26a69a"/>
<rect x="1080" y="74" width="1" height="22" fill="#26a69a"/>
<rect x="1077" y="79" width="7" height="18" fill="#26a69a"/>
<rect x="1090" y="74" width="1" height="13" fill="#ef5350"/>
<rect x="1087" y="79" width="7" height="9" fill="#ef5350"/>
<rect x="1099" y="70" width="1" height="17" fill="#26a69a"/>
<rect x="1096" y="79" width="7" height="5" fill="#26a69a"/>
<rect x="1108" y="65" width="1" height="14" fill="#26a69a"/>
<rect x="1105" y="74" width="7" height="6" fill="#26a69a"/>
<rect x="1117" y="56" width="1" height="18" fill="#26a69a"/>
<rect x="1114" y="65" width="7" height="6" fill="#26a69a"/>
<rect x="1126" y="61" width="1" height="26" fill="#ef5350"/>
<rect x="1123" y="65" width="7" height="19" fill="#ef5350"/>
<rect x="1135" y="74" width="1" height="18" fill="#ef5350"/>
<rect x="1132" y="79" width="7" height="9" fill="#ef5350"/>
<rect x="1144" y="74" width="1" height="18" fill="#26a69a"/>
<rect x="1141" y="83" width="7" height="10" fill="#26a69a"/>
<rect x="1154" y="74" width="1" height="116" fill="#ef5350"/>
<rect x="1151" y="79" width="7" height="41" fill="#ef5350"/>
<rect x="1163" y="105" width="1" height="31" fill="#26a69a"/>
<rect x="1160" y="119" width="7" height="1" fill="#26a69a"/>
<rect x="1172" y="105" width="1" height="31" fill="#26a69a"/>
<rect x="1169" y="110" width="7" height="14" fill="#26a69a"/>
<rect x="1181" y="101" width="1" height="49" fill="#ef5350"/>
<rect x="1178" y="110" width="7" height="32" fill="#ef5350"/>
<rect x="1190" y="123" width="1" height="27" fill="#26a69a"/>
<rect x="1187" y="132" width="7" height="10" fill="#26a69a"/>
<rect x="1199" y="101" width="1" height="40" fill="#26a69a"/>
<rect x="1196" y="105" width="7" height="24" fill="#26a69a"/>
<rect x="1208" y="101" width="1" height="49" fill="#ef5350"/>
<rect x="1205" y="105" width="7" height="37" fill="#ef5350"/>
<rect x="1218" y="132" width="1" height="40" fill="#ef5350"/>
<rect x="1215" y="141" width="7" height="28" fill="#ef5350"/>
<rect x="1227" y="154" width="1" height="23" fill="#ef5350"/>
<rect x="1224" y="168" width="7" height="5" fill="#ef5350"/>
<rect x="1236" y="168" width="1" height="17" fill="#ef5350"/>
<rect x="1233" y="177" width="7" height="5" fill="#ef5350"/>
<rect x="1245" y="177" width="1" height="13" fill="#26a69a"/>
<rect x="1242" y="181" width="7" height="1" fill="#26a69a"/>
<rect x="1254" y="181" width="1" height="13" fill="#26a69a"/>
<rect x="1251" y="185" width="7" height="1" fill="#26a69a"/>
<rect x="1263" y="181" width="1" height="18" fill="#ef5350"/>
<rect x="1260" y="181" width="7" height="5" fill="#ef5350"/>
<rect x="1272" y="168" width="1" height="31" fill="#26a69a"/>
<rect x="1269" y="172" width="7" height="14" fill="#26a69a"/>
<rect x="1282" y="145" width="1" height="27" fill="#26a69a"/>
<rect x="1279" y="150" width="7" height="23" fill="#26a69a"/>
<rect x="1291" y="145" width="1" height="23" fill="#ef5350"/>
<rect x="1288" y="150" width="7" height="5" fill="#ef5350"/>
<rect x="1300" y="154" width="1" height="14" fill="#26a69a"/>
<rect x="1297" y="159" width="7" height="1" fill="#26a69a"/>
</g>
<text x="795.2" y="58.7" font-size="28" fill="#1e1e1e" font-weight="bold" text-anchor="middle" textLength="112.5" lengthAdjust="spacingAndGlyphs">GBP/USD</text>
<rect x="11" y="264" width="1542" height="1" fill="#3c404b"/>
<rect x="1494" y="28" width="1" height="263" fill="#3c404b"/>
<rect x="1497.5" y="30.5" width="53" height="27" rx="4" fill="#fff" stroke="#e6e8f0" stroke-width="1"/>
<text x="1507.3" y="48.6" font-size="12" fill="#3a3e49" textLength="20.2" lengthAdjust="spacingAndGlyphs">USD</text>
<g clip-path="url(#c1a)">
<text x="1502.6" y="73.9" font-size="12" fill="#3a3e49" textLength="35.3" lengthAdjust="spacingAndGlyphs">1.2570</text>
<text x="1502.6" y="118.5" font-size="12" fill="#3a3e49" textLength="35.3" lengthAdjust="spacingAndGlyphs">1.2560</text>
<text x="1502.6" y="207.6" font-size="12" fill="#3a3e49" textLength="35.3" lengthAdjust="spacingAndGlyphs">1.2540</text>
</g>
<path d="M1443.5 151H1493V168H1443.5a2.5 2.5 0 0 1-2.5-2.5V153.5a2.5 2.5 0 0 1 2.5-2.5z" fill="#26a69a"/>
<text x="1445.4" y="163.8" font-size="11.5" fill="#fff" font-weight="bold" textLength="42.6" lengthAdjust="spacingAndGlyphs">GBPUSD</text>
<path d="M1494 151H1540.5a2.5 2.5 0 0 1 2.5 2.5V179.5a2.5 2.5 0 0 1-2.5 2.5H1494z" fill="#26a69a"/>
<text x="1502.3" y="163.6" font-size="12" fill="#fff" font-weight="bold" textLength="35.6" lengthAdjust="spacingAndGlyphs">1.2550</text>
<text x="1502.3" y="177.6" font-size="12" fill="#d3edea" textLength="29.2" lengthAdjust="spacingAndGlyphs">02:20</text>
<g clip-path="url(#c1ra)">
<rect x="1403.7" y="205" width="89.3" height="15" fill="#fff"/>
<text x="1409.3" y="215.7" font-size="12" fill="#131722" textLength="78.2" lengthAdjust="spacingAndGlyphs">Regular Bullish</text>
<text x="1502.3" y="215.7" font-size="12" fill="#131722" textLength="29.6" lengthAdjust="spacingAndGlyphs">47.18</text>
<rect x="1413" y="237.5" width="124" height="1.2" fill="#f4dc3c"/>
<path d="M1469.5 221H1493V238H1469.5a2.5 2.5 0 0 1-2.5-2.5V223.5a2.5 2.5 0 0 1 2.5-2.5z" fill="#7e57c2"/>
<text x="1472.0" y="233.7" font-size="12" fill="#fff" font-weight="bold" textLength="15.6" lengthAdjust="spacingAndGlyphs">RSI</text>
<path d="M1494 221H1534.5a2.5 2.5 0 0 1 2.5 2.5V235.5a2.5 2.5 0 0 1-2.5 2.5H1494z" fill="#7e57c2"/>
<text x="1502.3" y="233.7" font-size="12" fill="#fff" font-weight="bold" textLength="30.5" lengthAdjust="spacingAndGlyphs">42.14</text>
</g>
<g clip-path="url(#c1ma)">
<path d="M1431.5 241.5H1493V258H1431.5a2.5 2.5 0 0 1-2.5-2.5V244a2.5 2.5 0 0 1 2.5-2.5z" fill="#26a69a"/>
<text x="1434.0" y="253.9" font-size="12" fill="#fff" font-weight="bold" textLength="54.1" lengthAdjust="spacingAndGlyphs">Histogram</text>
<path d="M1494 241.5H1540.5a2.5 2.5 0 0 1 2.5 2.5V255.5a2.5 2.5 0 0 1-2.5 2.5H1494z" fill="#26a69a"/>
<text x="1502.3" y="253.9" font-size="12" fill="#fff" font-weight="bold" textLength="36.0" lengthAdjust="spacingAndGlyphs">0.0000</text>
<path d="M1455.5 258H1493V275H1453V260.5a2.5 2.5 0 0 1 2.5-2.5z" fill="#2962ff"/>
<text x="1458.0" y="270.4" font-size="12" fill="#fff" font-weight="bold" textLength="31.0" lengthAdjust="spacingAndGlyphs">MACD</text>
<path d="M1494 258H1547.5a2.5 2.5 0 0 1 2.5 2.5V275H1494z" fill="#2962ff"/>
<text x="1502.3" y="270.4" font-size="12" fill="#fff" font-weight="bold" textLength="41.0" lengthAdjust="spacingAndGlyphs">-0.0004</text>
</g>
<g clip-path="url(#c1t)">
<text x="56.5" y="281.5" font-size="12" fill="#3a3e49" text-anchor="middle" textLength="29.4" lengthAdjust="spacingAndGlyphs">21:00</text>
<text x="166.5" y="281.5" font-size="12" fill="#3a3e49" text-anchor="middle" textLength="29.4" lengthAdjust="spacingAndGlyphs">22:00</text>
<text x="276.5" y="281.5" font-size="12" fill="#3a3e49" text-anchor="middle" textLength="29.4" lengthAdjust="spacingAndGlyphs">23:00</text>
<text x="385.5" y="281.5" font-size="12" fill="#23262f" font-weight="bold" text-anchor="middle" textLength="13.4" lengthAdjust="spacingAndGlyphs">15</text>
<text x="495.5" y="281.5" font-size="12" fill="#3a3e49" text-anchor="middle" textLength="29.4" lengthAdjust="spacingAndGlyphs">01:00</text>
<text x="605.5" y="281.5" font-size="12" fill="#3a3e49" text-anchor="middle" textLength="29.4" lengthAdjust="spacingAndGlyphs">02:00</text>
<text x="715.5" y="281.5" font-size="12" fill="#3a3e49" text-anchor="middle" textLength="29.4" lengthAdjust="spacingAndGlyphs">03:00</text>
<text x="824.5" y="281.5" font-size="12" fill="#3a3e49" text-anchor="middle" textLength="29.4" lengthAdjust="spacingAndGlyphs">04:00</text>
<text x="934.5" y="281.5" font-size="12" fill="#3a3e49" text-anchor="middle" textLength="29.4" lengthAdjust="spacingAndGlyphs">05:00</text>
<text x="1044.5" y="281.5" font-size="12" fill="#3a3e49" text-anchor="middle" textLength="29.4" lengthAdjust="spacingAndGlyphs">06:00</text>
<text x="1263.5" y="281.5" font-size="12" fill="#3a3e49" text-anchor="middle" textLength="29.4" lengthAdjust="spacingAndGlyphs">08:00</text>
<text x="1373.5" y="281.5" font-size="12" fill="#3a3e49" text-anchor="middle" textLength="29.4" lengthAdjust="spacingAndGlyphs">09:00</text>
<text x="1483.5" y="281.5" font-size="12" fill="#3a3e49" text-anchor="middle" textLength="29.4" lengthAdjust="spacingAndGlyphs">10:00</text>
</g>
<path d="M1077 264.5H1213V286a2 2 0 0 1-2 2H1079a2 2 0 0 1-2-2z" fill="#000"/>
<text x="1086.0" y="282.6" font-size="12" fill="#fff" font-weight="bold" textLength="78.0" lengthAdjust="spacingAndGlyphs">Thu 15 Feb '24</text>
<text x="1174.0" y="282.6" font-size="12" fill="#fff" font-weight="bold" textLength="29.6" lengthAdjust="spacingAndGlyphs">06:55</text>
<rect x="10" y="297" width="1544" height="265" fill="#fff" stroke="#e6e8f0" stroke-width="2"/>
<rect x="1140" y="297" width="3" height="15" fill="#000"/>
<rect x="1140" y="330" width="3" height="15" fill="#000"/>
<rect x="1140" y="363" width="3" height="15" fill="#000"/>
<rect x="1140" y="396" width="3" height="15" fill="#000"/>
<rect x="1140" y="429" width="3" height="15" fill="#000"/>
<rect x="1140" y="462" width="3" height="15" fill="#000"/>
<rect x="1140" y="495" width="3" height="15" fill="#000"/>
<rect x="1140" y="528" width="3" height="6" fill="#000"/>
<g clip-path="url(#c2)">
<line x1="11" y1="358.5" x2="1494" y2="358.5" stroke="#000" stroke-width="1.25" stroke-dasharray="5 6" stroke-dashoffset="1"/>
<rect x="93" y="290" width="1" height="22" fill="#ef5350"/>
<rect x="90" y="285" width="7" height="5" fill="#ef5350"/>
<rect x="103" y="290" width="1" height="16" fill="#26a69a"/>
<rect x="100" y="304" width="7" height="1" fill="#26a69a"/>
<rect x="113" y="290" width="1" height="20" fill="#26a69a"/>
<rect x="110" y="301" width="7" height="3" fill="#26a69a"/>
<rect x="123" y="290" width="1" height="20" fill="#26a69a"/>
<rect x="120" y="290" width="7" height="10" fill="#26a69a"/>
<rect x="133" y="290" width="1" height="19" fill="#ef5350"/>
<rect x="130" y="290" width="7" height="9" fill="#ef5350"/>
<rect x="142" y="290" width="1" height="21" fill="#ef5350"/>
<rect x="139" y="290" width="7" height="16" fill="#ef5350"/>
<rect x="152" y="290" width="1" height="27" fill="#ef5350"/>
<rect x="149" y="300" width="7" height="14" fill="#ef5350"/>
<rect x="162" y="290" width="1" height="30" fill="#ef5350"/>
<rect x="159" y="304" width="7" height="10" fill="#ef5350"/>
<rect x="172" y="290" width="1" height="25" fill="#26a69a"/>
<rect x="169" y="306" width="7" height="2" fill="#26a69a"/>
<rect x="182" y="290" width="1" height="25" fill="#26a69a"/>
<rect x="179" y="299" width="7" height="16" fill="#26a69a"/>
<rect x="191" y="290" width="1" height="27" fill="#ef5350"/>
<rect x="188" y="301" width="7" height="5" fill="#ef5350"/>
<rect x="201" y="290" width="1" height="26" fill="#26a69a"/>
<rect x="198" y="300" width="7" height="16" fill="#26a69a"/>
<rect x="211" y="290" width="1" height="23" fill="#26a69a"/>
<rect x="208" y="306" width="7" height="4" fill="#26a69a"/>
<rect x="221" y="290" width="1" height="22" fill="#26a69a"/>
<rect x="218" y="290" width="7" height="17" fill="#26a69a"/>
<rect x="231" y="290" width="1" height="22" fill="#ef5350"/>
<rect x="228" y="290" width="7" height="15" fill="#ef5350"/>
<rect x="240" y="290" width="1" height="21" fill="#26a69a"/>
<rect x="237" y="300" width="7" height="4" fill="#26a69a"/>
<rect x="250" y="290" width="1" height="19" fill="#ef5350"/>
<rect x="247" y="302" width="7" height="3" fill="#ef5350"/>
<rect x="260" y="290" width="1" height="17" fill="#26a69a"/>
<rect x="257" y="290" width="7" height="16" fill="#26a69a"/>
<rect x="270" y="290" width="1" height="18" fill="#ef5350"/>
<rect x="267" y="300" width="7" height="5" fill="#ef5350"/>
<rect x="279" y="290" width="1" height="17" fill="#26a69a"/>
<rect x="276" y="290" width="7" height="17" fill="#26a69a"/>
<rect x="289" y="290" width="1" height="9" fill="#26a69a"/>
<rect x="286" y="285" width="7" height="5" fill="#26a69a"/>
<rect x="299" y="290" width="1" height="10" fill="#26a69a"/>
<rect x="296" y="285" width="7" height="5" fill="#26a69a"/>
<rect x="358" y="290" width="1" height="13" fill="#ef5350"/>
<rect x="355" y="290" width="7" height="10" fill="#ef5350"/>
<rect x="368" y="290" width="1" height="21" fill="#26a69a"/>
<rect x="365" y="290" width="7" height="11" fill="#26a69a"/>
<rect x="377" y="290" width="1" height="16" fill="#26a69a"/>
<rect x="374" y="290" width="7" height="9" fill="#26a69a"/>
<rect x="387" y="290" width="1" height="32" fill="#ef5350"/>
<rect x="384" y="290" width="7" height="18" fill="#ef5350"/>
<rect x="397" y="290" width="1" height="36" fill="#ef5350"/>
<rect x="394" y="305" width="7" height="15" fill="#ef5350"/>
<rect x="407" y="314" width="1" height="12" fill="#ef5350"/>
<rect x="404" y="319" width="7" height="1" fill="#ef5350"/>
<rect x="417" y="307" width="1" height="16" fill="#26a69a"/>
<rect x="414" y="318" width="7" height="5" fill="#26a69a"/>
<rect x="426" y="307" width="1" height="32" fill="#26a69a"/>
<rect x="423" y="316" width="7" height="1" fill="#26a69a"/>
<rect x="436" y="315" width="1" height="27" fill="#ef5350"/>
<rect x="433" y="315" width="7" height="21" fill="#ef5350"/>
<rect x="446" y="333" width="1" height="14" fill="#ef5350"/>
<rect x="443" y="336" width="7" height="3" fill="#ef5350"/>
<rect x="456" y="331" width="1" height="14" fill="#ef5350"/>
<rect x="453" y="337" width="7" height="7" fill="#ef5350"/>
<rect x="465" y="337" width="1" height="30" fill="#ef5350"/>
<rect x="462" y="343" width="7" height="15" fill="#ef5350"/>
<rect x="475" y="349" width="1" height="17" fill="#26a69a"/>
<rect x="472" y="351" width="7" height="12" fill="#26a69a"/>
<rect x="485" y="348" width="1" height="15" fill="#ef5350"/>
<rect x="482" y="350" width="7" height="5" fill="#ef5350"/>
<rect x="495" y="353" width="1" height="17" fill="#ef5350"/>
<rect x="492" y="355" width="7" height="4" fill="#ef5350"/>
<rect x="505" y="346" width="1" height="14" fill="#ef5350"/>
<rect x="502" y="355" width="7" height="1" fill="#ef5350"/>
<rect x="514" y="352" width="1" height="23" fill="#ef5350"/>
<rect x="511" y="358" width="7" height="15" fill="#ef5350"/>
<rect x="524" y="368" width="1" height="13" fill="#26a69a"/>
<rect x="521" y="369" width="7" height="4" fill="#26a69a"/>
<rect x="534" y="369" width="1" height="18" fill="#ef5350"/>
<rect x="531" y="372" width="7" height="12" fill="#ef5350"/>
<rect x="544" y="381" width="1" height="22" fill="#ef5350"/>
<rect x="541" y="382" width="7" height="12" fill="#ef5350"/>
<rect x="554" y="386" width="1" height="20" fill="#26a69a"/>
<rect x="551" y="387" width="7" height="8" fill="#26a69a"/>
<rect x="563" y="377" width="1" height="14" fill="#26a69a"/>
<rect x="560" y="384" width="7" height="7" fill="#26a69a"/>
<rect x="573" y="370" width="1" height="15" fill="#26a69a"/>
<rect x="570" y="379" width="7" height="3" fill="#26a69a"/>
<rect x="583" y="371" width="1" height="13" fill="#ef5350"/>
<rect x="580" y="379" width="7" height="3" fill="#ef5350"/>
<rect x="593" y="379" width="1" height="16" fill="#ef5350"/>
<rect x="590" y="380" width="7" height="9" fill="#ef5350"/>
<rect x="603" y="370" width="1" height="21" fill="#26a69a"/>
<rect x="600" y="376" width="7" height="14" fill="#26a69a"/>
<rect x="612" y="371" width="1" height="13" fill="#26a69a"/>
<rect x="609" y="372" width="7" height="5" fill="#26a69a"/>
<rect x="622" y="366" width="1" height="14" fill="#26a69a"/>
<rect x="619" y="369" width="7" height="4" fill="#26a69a"/>
<rect x="632" y="360" width="1" height="13" fill="#26a69a"/>
<rect x="629" y="370" width="7" height="3" fill="#26a69a"/>
<rect x="642" y="364" width="1" height="10" fill="#26a69a"/>
<rect x="639" y="366" width="7" height="1" fill="#26a69a"/>
<rect x="651" y="364" width="1" height="14" fill="#ef5350"/>
<rect x="648" y="366" width="7" height="11" fill="#ef5350"/>
<rect x="661" y="370" width="1" height="7" fill="#26a69a"/>
<rect x="658" y="373" width="7" height="2" fill="#26a69a"/>
<rect x="671" y="351" width="1" height="25" fill="#26a69a"/>
<rect x="668" y="359" width="7" height="14" fill="#26a69a"/>
<rect x="681" y="353" width="1" height="9" fill="#26a69a"/>
<rect x="678" y="355" width="7" height="2" fill="#26a69a"/>
<rect x="691" y="354" width="1" height="12" fill="#ef5350"/>
<rect x="688" y="355" width="7" height="6" fill="#ef5350"/>
<rect x="700" y="358" width="1" height="13" fill="#ef5350"/>
<rect x="697" y="360" width="7" height="1" fill="#ef5350"/>
<rect x="710" y="356" width="1" height="9" fill="#26a69a"/>
<rect x="707" y="360" width="7" height="1" fill="#26a69a"/>
<rect x="720" y="348" width="1" height="13" fill="#26a69a"/>
<rect x="717" y="354" width="7" height="4" fill="#26a69a"/>
<rect x="730" y="351" width="1" height="10" fill="#26a69a"/>
<rect x="727" y="352" width="7" height="3" fill="#26a69a"/>
<rect x="740" y="348" width="1" height="9" fill="#ef5350"/>
<rect x="737" y="351" width="7" height="3" fill="#ef5350"/>
<rect x="749" y="352" width="1" height="11" fill="#ef5350"/>
<rect x="746" y="354" width="7" height="4" fill="#ef5350"/>
<rect x="759" y="357" width="1" height="13" fill="#ef5350"/>
<rect x="756" y="358" width="7" height="10" fill="#ef5350"/>
<rect x="769" y="352" width="1" height="17" fill="#26a69a"/>
<rect x="766" y="359" width="7" height="6" fill="#26a69a"/>
<rect x="779" y="355" width="1" height="11" fill="#ef5350"/>
<rect x="776" y="355" width="7" height="8" fill="#ef5350"/>
<rect x="789" y="355" width="1" height="10" fill="#ef5350"/>
<rect x="786" y="361" width="7" height="3" fill="#ef5350"/>
<rect x="798" y="360" width="1" height="14" fill="#ef5350"/>
<rect x="795" y="360" width="7" height="11" fill="#ef5350"/>
<rect x="808" y="363" width="1" height="11" fill="#26a69a"/>
<rect x="805" y="370" width="7" height="3" fill="#26a69a"/>
<rect x="818" y="369" width="1" height="11" fill="#ef5350"/>
<rect x="815" y="370" width="7" height="8" fill="#ef5350"/>
<rect x="828" y="376" width="1" height="11" fill="#ef5350"/>
<rect x="825" y="377" width="7" height="4" fill="#ef5350"/>
<rect x="837" y="378" width="1" height="14" fill="#ef5350"/>
<rect x="834" y="381" width="7" height="6" fill="#ef5350"/>
<rect x="847" y="384" width="1" height="15" fill="#ef5350"/>
<rect x="844" y="386" width="7" height="11" fill="#ef5350"/>
<rect x="857" y="391" width="1" height="11" fill="#26a69a"/>
<rect x="854" y="395" width="7" height="1" fill="#26a69a"/>
<rect x="867" y="392" width="1" height="16" fill="#ef5350"/>
<rect x="864" y="398" width="7" height="3" fill="#ef5350"/>
<rect x="877" y="398" width="1" height="10" fill="#26a69a"/>
<rect x="874" y="401" width="7" height="3" fill="#26a69a"/>
<rect x="886" y="395" width="1" height="13" fill="#ef5350"/>
<rect x="883" y="401" width="7" height="7" fill="#ef5350"/>
<rect x="896" y="400" width="1" height="6" fill="#26a69a"/>
<rect x="893" y="406" width="7" height="1" fill="#26a69a"/>
<rect x="906" y="391" width="1" height="19" fill="#26a69a"/>
<rect x="903" y="398" width="7" height="7" fill="#26a69a"/>
<rect x="916" y="389" width="1" height="14" fill="#26a69a"/>
<rect x="913" y="391" width="7" height="12" fill="#26a69a"/>
<rect x="926" y="390" width="1" height="13" fill="#ef5350"/>
<rect x="923" y="390" width="7" height="10" fill="#ef5350"/>
<rect x="935" y="393" width="1" height="17" fill="#ef5350"/>
<rect x="932" y="399" width="7" height="11" fill="#ef5350"/>
<rect x="945" y="395" width="1" height="14" fill="#26a69a"/>
<rect x="942" y="403" width="7" height="4" fill="#26a69a"/>
<rect x="955" y="395" width="1" height="12" fill="#26a69a"/>
<rect x="952" y="395" width="7" height="9" fill="#26a69a"/>
<rect x="965" y="393" width="1" height="12" fill="#ef5350"/>
<rect x="962" y="396" width="7" height="6" fill="#ef5350"/>
<rect x="975" y="393" width="1" height="10" fill="#26a69a"/>
<rect x="972" y="398" width="7" height="1" fill="#26a69a"/>
<rect x="984" y="389" width="1" height="15" fill="#26a69a"/>
<rect x="981" y="392" width="7" height="7" fill="#26a69a"/>
<rect x="994" y="390" width="1" height="11" fill="#ef5350"/>
<rect x="991" y="393" width="7" height="7" fill="#ef5350"/>
<rect x="1004" y="392" width="1" height="12" fill="#26a69a"/>
<rect x="1001" y="395" width="7" height="2" fill="#26a69a"/>
<rect x="1014" y="381" width="1" height="16" fill="#26a69a"/>
<rect x="1011" y="390" width="7" height="6" fill="#26a69a"/>
<rect x="1023" y="384" width="1" height="8" fill="#26a69a"/>
<rect x="1020" y="387" width="7" height="1" fill="#26a69a"/>
<rect x="1033" y="381" width="1" height="24" fill="#ef5350"/>
<rect x="1030" y="385" width="7" height="17" fill="#ef5350"/>
<rect x="1043" y="388" width="1" height="15" fill="#26a69a"/>
<rect x="1040" y="392" width="7" height="8" fill="#26a69a"/>
<rect x="1053" y="389" width="1" height="16" fill="#26a69a"/>
<rect x="1050" y="392" width="7" height="2" fill="#26a69a"/>
<rect x="1063" y="379" width="1" height="17" fill="#26a69a"/>
<rect x="1060" y="380" width="7" height="16" fill="#26a69a"/>
<rect x="1072" y="374" width="1" height="12" fill="#26a69a"/>
<rect x="1069" y="381" width="7" height="1" fill="#26a69a"/>
<rect x="1082" y="368" width="1" height="16" fill="#26a69a"/>
<rect x="1079" y="376" width="7" height="5" fill="#26a69a"/>
<rect x="1092" y="372" width="1" height="12" fill="#ef5350"/>
<rect x="1089" y="375" width="7" height="6" fill="#ef5350"/>
<rect x="1102" y="371" width="1" height="10" fill="#26a69a"/>
<rect x="1099" y="375" width="7" height="6" fill="#26a69a"/>
<rect x="1112" y="373" width="1" height="16" fill="#ef5350"/>
<rect x="1109" y="374" width="7" height="13" fill="#ef5350"/>
<rect x="1121" y="382" width="1" height="15" fill="#ef5350"/>
<rect x="1118" y="389" width="7" height="7" fill="#ef5350"/>
<rect x="1131" y="389" width="1" height="15" fill="#ef5350"/>
<rect x="1128" y="395" width="7" height="8" fill="#ef5350"/>
<rect x="1141" y="392" width="1" height="32" fill="#ef5350"/>
<rect x="1138" y="402" width="7" height="22" fill="#ef5350"/>
<rect x="1151" y="400" width="1" height="90" fill="#ef5350"/>
<rect x="1148" y="401" width="7" height="34" fill="#ef5350"/>
<rect x="1161" y="426" width="1" height="19" fill="#ef5350"/>
<rect x="1158" y="434" width="7" height="6" fill="#ef5350"/>
<rect x="1170" y="409" width="1" height="43" fill="#26a69a"/>
<rect x="1167" y="412" width="7" height="28" fill="#26a69a"/>
<rect x="1180" y="401" width="1" height="35" fill="#ef5350"/>
<rect x="1177" y="413" width="7" height="19" fill="#ef5350"/>
<rect x="1190" y="418" width="1" height="17" fill="#26a69a"/>
<rect x="1187" y="426" width="7" height="9" fill="#26a69a"/>
<rect x="1200" y="421" width="1" height="16" fill="#ef5350"/>
<rect x="1197" y="424" width="7" height="3" fill="#ef5350"/>
<rect x="1209" y="420" width="1" height="24" fill="#ef5350"/>
<rect x="1206" y="426" width="7" height="12" fill="#ef5350"/>
<rect x="1219" y="428" width="1" height="20" fill="#ef5350"/>
<rect x="1216" y="434" width="7" height="11" fill="#ef5350"/>
<rect x="1229" y="430" width="1" height="21" fill="#ef5350"/>
<rect x="1226" y="444" width="7" height="1" fill="#ef5350"/>
<rect x="1239" y="441" width="1" height="18" fill="#ef5350"/>
<rect x="1236" y="446" width="7" height="9" fill="#ef5350"/>
<rect x="1249" y="454" width="1" height="13" fill="#ef5350"/>
<rect x="1246" y="454" width="7" height="8" fill="#ef5350"/>
<rect x="1258" y="446" width="1" height="21" fill="#26a69a"/>
<rect x="1255" y="447" width="7" height="15" fill="#26a69a"/>
<rect x="1268" y="446" width="1" height="33" fill="#ef5350"/>
<rect x="1265" y="449" width="7" height="27" fill="#ef5350"/>
<rect x="1278" y="466" width="1" height="21" fill="#26a69a"/>
<rect x="1275" y="473" width="7" height="3" fill="#26a69a"/>
<rect x="1288" y="458" width="1" height="23" fill="#26a69a"/>
<rect x="1285" y="464" width="7" height="10" fill="#26a69a"/>
<rect x="1298" y="455" width="1" height="16" fill="#26a69a"/>
<rect x="1295" y="461" width="7" height="4" fill="#26a69a"/>
<rect x="1307" y="459" width="1" height="23" fill="#ef5350"/>
<rect x="1304" y="464" width="7" height="11" fill="#ef5350"/>
</g>
<text x="801.2" y="332.1" font-size="28" fill="#111" font-weight="bold" text-anchor="middle" textLength="110.3" lengthAdjust="spacingAndGlyphs">GBP/JPY</text>
<rect x="11" y="534" width="1542" height="1" fill="#3c404b"/>
<rect x="1494" y="298" width="1" height="263" fill="#3c404b"/>
<rect x="1497.5" y="300.5" width="53" height="27" rx="4" fill="#fff" stroke="#e6e8f0" stroke-width="1"/>
<text x="1507.3" y="318.6" font-size="12" fill="#3a3e49" textLength="19.4" lengthAdjust="spacingAndGlyphs">JPY</text>
<text x="1502.6" y="411.3" font-size="12" fill="#3a3e49" textLength="41.3" lengthAdjust="spacingAndGlyphs">188.600</text>
<text x="1502.6" y="458.9" font-size="12" fill="#3a3e49" textLength="41.3" lengthAdjust="spacingAndGlyphs">188.400</text>
<text x="1502.6" y="504.9" font-size="12" fill="#3a3e49" textLength="41.3" lengthAdjust="spacingAndGlyphs">188.200</text>
<path d="M1494 350H1548a2 2 0 0 1 2 2V365a2 2 0 0 1-2 2H1494z" fill="#000"/>
<text x="1502.3" y="362.8" font-size="12" fill="#fff" font-weight="bold" textLength="41.9" lengthAdjust="spacingAndGlyphs">188.810</text>
<path d="M1445.5 466.5H1493V483H1445.5a2.5 2.5 0 0 1-2.5-2.5V469a2.5 2.5 0 0 1 2.5-2.5z" fill="#ef5350"/>
<text x="1447.5" y="479.0" font-size="11.5" fill="#fff" font-weight="bold" textLength="41.0" lengthAdjust="spacingAndGlyphs">GBPJPY</text>
<path d="M1494 466.5H1547.5a2.5 2.5 0 0 1 2.5 2.5V494.5a2.5 2.5 0 0 1-2.5 2.5H1494z" fill="#ef5350"/>
<text x="1502.6" y="479.2" font-size="12" fill="#fff" font-weight="bold" textLength="41.6" lengthAdjust="spacingAndGlyphs">188.315</text>
<text x="1502.6" y="493.2" font-size="12" fill="#fbd9d8" textLength="29.2" lengthAdjust="spacingAndGlyphs">02:20</text>
<g clip-path="url(#c2t)">
<text x="93.5" y="551.7" font-size="12" fill="#3a3e49" text-anchor="middle" textLength="29.4" lengthAdjust="spacingAndGlyphs">22:00</text>
<text x="211.5" y="551.7" font-size="12" fill="#3a3e49" text-anchor="middle" textLength="29.4" lengthAdjust="spacingAndGlyphs">23:00</text>
<text x="328.5" y="551.7" font-size="12" fill="#23262f" font-weight="bold" text-anchor="middle" textLength="13.4" lengthAdjust="spacingAndGlyphs">15</text>
<text x="446.5" y="551.7" font-size="12" fill="#3a3e49" text-anchor="middle" textLength="29.4" lengthAdjust="spacingAndGlyphs">01:00</text>
<text x="563.5" y="551.7" font-size="12" fill="#3a3e49" text-anchor="middle" textLength="29.4" lengthAdjust="spacingAndGlyphs">02:00</text>
<text x="681.5" y="551.7" font-size="12" fill="#3a3e49" text-anchor="middle" textLength="29.4" lengthAdjust="spacingAndGlyphs">03:00</text>
<text x="798.5" y="551.7" font-size="12" fill="#3a3e49" text-anchor="middle" textLength="29.4" lengthAdjust="spacingAndGlyphs">04:00</text>
<text x="916.5" y="551.7" font-size="12" fill="#3a3e49" text-anchor="middle" textLength="29.4" lengthAdjust="spacingAndGlyphs">05:00</text>
<text x="1033.5" y="551.7" font-size="12" fill="#3a3e49" text-anchor="middle" textLength="29.4" lengthAdjust="spacingAndGlyphs">06:00</text>
<text x="1268.5" y="551.7" font-size="12" fill="#3a3e49" text-anchor="middle" textLength="29.4" lengthAdjust="spacingAndGlyphs">08:00</text>
<text x="1386.5" y="551.7" font-size="12" fill="#3a3e49" text-anchor="middle" textLength="29.4" lengthAdjust="spacingAndGlyphs">09:00</text>
</g>
<path d="M1073 534.5H1209V555.5a2 2 0 0 1-2 2H1075a2 2 0 0 1-2-2z" fill="#000"/>
<text x="1081.8" y="552.7" font-size="12" fill="#fff" font-weight="bold" textLength="78.0" lengthAdjust="spacingAndGlyphs">Thu 15 Feb '24</text>
<text x="1169.8" y="552.7" font-size="12" fill="#fff" font-weight="bold" textLength="29.6" lengthAdjust="spacingAndGlyphs">06:55</text>
<rect x="10" y="567" width="1544" height="261" fill="#fff" stroke="#e6e8f0" stroke-width="2"/>
<rect x="1140" y="567" width="3" height="15" fill="#000"/>
<rect x="1140" y="600" width="3" height="15" fill="#000"/>
<rect x="1140" y="633" width="3" height="15" fill="#000"/>
<rect x="1140" y="666" width="3" height="15" fill="#000"/>
<rect x="1140" y="699" width="3" height="15" fill="#000"/>
<rect x="1140" y="732" width="3" height="15" fill="#000"/>
<rect x="1140" y="765" width="3" height="15" fill="#000"/>
<rect x="1140" y="798" width="3" height="2" fill="#000"/>
<g clip-path="url(#c3)">
<rect x="65" y="794" width="1" height="11" fill="#26a69a"/>
<rect x="61" y="794" width="9" height="11" fill="#26a69a"/>
<rect x="77" y="784" width="1" height="12" fill="#26a69a"/>
<rect x="73" y="790" width="9" height="5" fill="#26a69a"/>
<rect x="89" y="783" width="1" height="16" fill="#ef5350"/>
<rect x="85" y="790" width="9" height="6" fill="#ef5350"/>
<rect x="101" y="788" width="1" height="17" fill="#26a69a"/>
<rect x="97" y="791" width="9" height="5" fill="#26a69a"/>
<rect x="113" y="766" width="1" height="26" fill="#26a69a"/>
<rect x="109" y="770" width="9" height="22" fill="#26a69a"/>
<rect x="125" y="767" width="1" height="7" fill="#26a69a"/>
<rect x="121" y="769" width="9" height="2" fill="#26a69a"/>
<rect x="138" y="764" width="1" height="14" fill="#ef5350"/>
<rect x="134" y="769" width="9" height="9" fill="#ef5350"/>
<rect x="150" y="766" width="1" height="12" fill="#26a69a"/>
<rect x="146" y="769" width="9" height="9" fill="#26a69a"/>
<rect x="162" y="749" width="1" height="21" fill="#26a69a"/>
<rect x="158" y="750" width="9" height="20" fill="#26a69a"/>
<rect x="174" y="746" width="1" height="6" fill="#26a69a"/>
<rect x="170" y="746" width="9" height="5" fill="#26a69a"/>
<rect x="186" y="738" width="1" height="9" fill="#26a69a"/>
<rect x="182" y="741" width="9" height="6" fill="#26a69a"/>
<rect x="198" y="740" width="1" height="10" fill="#26a69a"/>
<rect x="194" y="741" width="9" height="1" fill="#26a69a"/>
<rect x="210" y="721" width="1" height="21" fill="#26a69a"/>
<rect x="206" y="721" width="9" height="21" fill="#26a69a"/>
<rect x="222" y="721" width="1" height="8" fill="#ef5350"/>
<rect x="218" y="721" width="9" height="6" fill="#ef5350"/>
<rect x="234" y="708" width="1" height="20" fill="#26a69a"/>
<rect x="230" y="716" width="9" height="10" fill="#26a69a"/>
<rect x="246" y="714" width="1" height="11" fill="#ef5350"/>
<rect x="242" y="716" width="9" height="9" fill="#ef5350"/>
<rect x="258" y="716" width="1" height="11" fill="#26a69a"/>
<rect x="254" y="717" width="9" height="8" fill="#26a69a"/>
<rect x="270" y="699" width="1" height="20" fill="#26a69a"/>
<rect x="266" y="702" width="9" height="16" fill="#26a69a"/>
<rect x="283" y="696" width="1" height="11" fill="#26a69a"/>
<rect x="279" y="697" width="9" height="6" fill="#26a69a"/>
<rect x="295" y="695" width="1" height="7" fill="#26a69a"/>
<rect x="291" y="695" width="9" height="3" fill="#26a69a"/>
<rect x="307" y="684" width="1" height="16" fill="#26a69a"/>
<rect x="303" y="684" width="9" height="12" fill="#26a69a"/>
<rect x="319" y="672" width="1" height="13" fill="#ef5350"/>
<rect x="315" y="685" width="9" height="1" fill="#ef5350"/>
<rect x="331" y="684" width="1" height="7" fill="#ef5350"/>
<rect x="327" y="685" width="9" height="6" fill="#ef5350"/>
<rect x="343" y="686" width="1" height="4" fill="#ef5350"/>
<rect x="339" y="690" width="9" height="1" fill="#ef5350"/>
<rect x="355" y="690" width="1" height="8" fill="#ef5350"/>
<rect x="351" y="690" width="9" height="8" fill="#ef5350"/>
<rect x="367" y="689" width="1" height="16" fill="#ef5350"/>
<rect x="363" y="697" width="9" height="7" fill="#ef5350"/>
<rect x="379" y="699" width="1" height="5" fill="#26a69a"/>
<rect x="375" y="702" width="9" height="2" fill="#26a69a"/>
<rect x="391" y="698" width="1" height="14" fill="#ef5350"/>
<rect x="387" y="702" width="9" height="10" fill="#ef5350"/>
<rect x="403" y="711" width="1" height="7" fill="#ef5350"/>
<rect x="399" y="711" width="9" height="6" fill="#ef5350"/>
<rect x="415" y="713" width="1" height="8" fill="#ef5350"/>
<rect x="411" y="717" width="9" height="4" fill="#ef5350"/>
<rect x="428" y="718" width="1" height="13" fill="#ef5350"/>
<rect x="424" y="720" width="9" height="10" fill="#ef5350"/>
<rect x="440" y="719" width="1" height="12" fill="#26a69a"/>
<rect x="436" y="719" width="9" height="11" fill="#26a69a"/>
<rect x="452" y="704" width="1" height="16" fill="#26a69a"/>
<rect x="448" y="704" width="9" height="16" fill="#26a69a"/>
<rect x="464" y="697" width="1" height="15" fill="#ef5350"/>
<rect x="460" y="704" width="9" height="8" fill="#ef5350"/>
<rect x="476" y="688" width="1" height="25" fill="#26a69a"/>
<rect x="472" y="688" width="9" height="25" fill="#26a69a"/>
<rect x="488" y="681" width="1" height="7" fill="#ef5350"/>
<rect x="484" y="688" width="9" height="1" fill="#ef5350"/>
<rect x="500" y="680" width="1" height="9" fill="#26a69a"/>
<rect x="496" y="682" width="9" height="7" fill="#26a69a"/>
<rect x="512" y="676" width="1" height="7" fill="#ef5350"/>
<rect x="508" y="683" width="9" height="1" fill="#ef5350"/>
<rect x="524" y="683" width="1" height="6" fill="#ef5350"/>
<rect x="520" y="683" width="9" height="6" fill="#ef5350"/>
<rect x="536" y="682" width="1" height="8" fill="#26a69a"/>
<rect x="532" y="682" width="9" height="7" fill="#26a69a"/>
<rect x="548" y="678" width="1" height="5" fill="#26a69a"/>
<rect x="544" y="681" width="9" height="2" fill="#26a69a"/>
<rect x="560" y="674" width="1" height="8" fill="#26a69a"/>
<rect x="556" y="674" width="9" height="8" fill="#26a69a"/>
<rect x="573" y="675" width="1" height="10" fill="#ef5350"/>
<rect x="569" y="675" width="9" height="10" fill="#ef5350"/>
<rect x="585" y="676" width="1" height="9" fill="#26a69a"/>
<rect x="581" y="678" width="9" height="7" fill="#26a69a"/>
<rect x="597" y="669" width="1" height="10" fill="#26a69a"/>
<rect x="593" y="669" width="9" height="10" fill="#26a69a"/>
<rect x="609" y="668" width="1" height="8" fill="#ef5350"/>
<rect x="605" y="670" width="9" height="5" fill="#ef5350"/>
<rect x="621" y="674" width="1" height="6" fill="#ef5350"/>
<rect x="617" y="674" width="9" height="3" fill="#ef5350"/>
<rect x="633" y="657" width="1" height="21" fill="#26a69a"/>
<rect x="629" y="660" width="9" height="18" fill="#26a69a"/>
<rect x="645" y="655" width="1" height="11" fill="#26a69a"/>
<rect x="641" y="658" width="9" height="3" fill="#26a69a"/>
<rect x="657" y="655" width="1" height="10" fill="#26a69a"/>
<rect x="653" y="657" width="9" height="2" fill="#26a69a"/>
<rect x="669" y="656" width="1" height="23" fill="#ef5350"/>
<rect x="665" y="656" width="9" height="23" fill="#ef5350"/>
<rect x="681" y="678" width="1" height="8" fill="#ef5350"/>
<rect x="677" y="678" width="9" height="7" fill="#ef5350"/>
<rect x="693" y="684" width="1" height="18" fill="#ef5350"/>
<rect x="689" y="684" width="9" height="18" fill="#ef5350"/>
<rect x="706" y="694" width="1" height="10" fill="#26a69a"/>
<rect x="702" y="695" width="9" height="8" fill="#26a69a"/>
<rect x="718" y="693" width="1" height="8" fill="#ef5350"/>
<rect x="714" y="696" width="9" height="1" fill="#ef5350"/>
<rect x="730" y="696" width="1" height="13" fill="#ef5350"/>
<rect x="726" y="696" width="9" height="11" fill="#ef5350"/>
<rect x="742" y="696" width="1" height="16" fill="#ef5350"/>
<rect x="738" y="705" width="9" height="7" fill="#ef5350"/>
<rect x="754" y="711" width="1" height="16" fill="#ef5350"/>
<rect x="750" y="711" width="9" height="16" fill="#ef5350"/>
<rect x="766" y="720" width="1" height="10" fill="#26a69a"/>
<rect x="762" y="721" width="9" height="6" fill="#26a69a"/>
<rect x="778" y="718" width="1" height="14" fill="#ef5350"/>
<rect x="774" y="720" width="9" height="12" fill="#ef5350"/>
<rect x="790" y="729" width="1" height="8" fill="#26a69a"/>
<rect x="786" y="731" width="9" height="1" fill="#26a69a"/>
<rect x="802" y="726" width="1" height="11" fill="#ef5350"/>
<rect x="798" y="731" width="9" height="5" fill="#ef5350"/>
<rect x="814" y="735" width="1" height="13" fill="#ef5350"/>
<rect x="810" y="735" width="9" height="13" fill="#ef5350"/>
<rect x="826" y="735" width="1" height="12" fill="#26a69a"/>
<rect x="822" y="736" width="9" height="11" fill="#26a69a"/>
<rect x="838" y="729" width="1" height="8" fill="#26a69a"/>
<rect x="834" y="730" width="9" height="7" fill="#26a69a"/>
<rect x="851" y="722" width="1" height="28" fill="#ef5350"/>
<rect x="847" y="730" width="9" height="9" fill="#ef5350"/>
<rect x="863" y="733" width="1" height="13" fill="#ef5350"/>
<rect x="859" y="738" width="9" height="3" fill="#ef5350"/>
<rect x="875" y="722" width="1" height="19" fill="#26a69a"/>
<rect x="871" y="726" width="9" height="15" fill="#26a69a"/>
<rect x="887" y="723" width="1" height="11" fill="#ef5350"/>
<rect x="883" y="726" width="9" height="3" fill="#ef5350"/>
<rect x="899" y="704" width="1" height="25" fill="#26a69a"/>
<rect x="895" y="704" width="9" height="25" fill="#26a69a"/>
<rect x="911" y="699" width="1" height="23" fill="#ef5350"/>
<rect x="907" y="704" width="9" height="18" fill="#ef5350"/>
<rect x="923" y="716" width="1" height="9" fill="#26a69a"/>
<rect x="919" y="718" width="9" height="4" fill="#26a69a"/>
<rect x="935" y="716" width="1" height="11" fill="#ef5350"/>
<rect x="931" y="718" width="9" height="7" fill="#ef5350"/>
<rect x="947" y="719" width="1" height="11" fill="#ef5350"/>
<rect x="943" y="724" width="9" height="5" fill="#ef5350"/>
<rect x="959" y="722" width="1" height="8" fill="#26a69a"/>
<rect x="955" y="723" width="9" height="6" fill="#26a69a"/>
<rect x="971" y="712" width="1" height="12" fill="#26a69a"/>
<rect x="967" y="712" width="9" height="12" fill="#26a69a"/>
<rect x="983" y="701" width="1" height="23" fill="#ef5350"/>
<rect x="979" y="712" width="9" height="12" fill="#ef5350"/>
<rect x="996" y="719" width="1" height="9" fill="#ef5350"/>
<rect x="992" y="723" width="9" height="4" fill="#ef5350"/>
<rect x="1008" y="726" width="1" height="21" fill="#ef5350"/>
<rect x="1004" y="726" width="9" height="20" fill="#ef5350"/>
<rect x="1020" y="728" width="1" height="20" fill="#26a69a"/>
<rect x="1016" y="730" width="9" height="16" fill="#26a69a"/>
<rect x="1032" y="719" width="1" height="13" fill="#26a69a"/>
<rect x="1028" y="724" width="9" height="7" fill="#26a69a"/>
<rect x="1044" y="719" width="1" height="12" fill="#ef5350"/>
<rect x="1040" y="724" width="9" height="5" fill="#ef5350"/>
<rect x="1056" y="720" width="1" height="10" fill="#26a69a"/>
<rect x="1052" y="727" width="9" height="1" fill="#26a69a"/>
<rect x="1068" y="727" width="1" height="26" fill="#ef5350"/>
<rect x="1064" y="727" width="9" height="26" fill="#ef5350"/>
<rect x="1080" y="737" width="1" height="17" fill="#26a69a"/>
<rect x="1076" y="743" width="9" height="11" fill="#26a69a"/>
<rect x="1092" y="733" width="1" height="9" fill="#26a69a"/>
<rect x="1088" y="742" width="9" height="1" fill="#26a69a"/>
<rect x="1104" y="730" width="1" height="12" fill="#ef5350"/>
<rect x="1100" y="742" width="9" height="1" fill="#ef5350"/>
<rect x="1116" y="739" width="1" height="12" fill="#26a69a"/>
<rect x="1112" y="740" width="9" height="3" fill="#26a69a"/>
<rect x="1128" y="738" width="1" height="20" fill="#ef5350"/>
<rect x="1124" y="740" width="9" height="18" fill="#ef5350"/>
<rect x="1137" y="728" width="9" height="1" fill="#26a69a"/>
<rect x="1153" y="622" width="1" height="106" fill="#26a69a"/>
<rect x="1149" y="632" width="9" height="96" fill="#26a69a"/>
<rect x="1165" y="605" width="1" height="27" fill="#26a69a"/>
<rect x="1161" y="606" width="9" height="26" fill="#26a69a"/>
</g>
<text x="796.1" y="610.8" font-size="27.2" fill="#1e1e1e" font-weight="bold" text-anchor="middle" textLength="118.6" lengthAdjust="spacingAndGlyphs">FTSE 100</text>
<rect x="11" y="800" width="1542" height="1" fill="#3c404b"/>
<rect x="1494" y="568" width="1" height="259" fill="#3c404b"/>
<rect x="1497.5" y="570.5" width="53" height="27" rx="4" fill="#fff" stroke="#e6e8f0" stroke-width="1"/>
<text x="1507.3" y="588.6" font-size="12" fill="#3a3e49" textLength="21.3" lengthAdjust="spacingAndGlyphs">GBP</text>
<text x="1502.0" y="660.3" font-size="12" fill="#3a3e49" textLength="42.0" lengthAdjust="spacingAndGlyphs">7590.00</text>
<text x="1502.0" y="693.7" font-size="12" fill="#3a3e49" textLength="42.0" lengthAdjust="spacingAndGlyphs">7580.00</text>
<text x="1502.0" y="727.1" font-size="12" fill="#3a3e49" textLength="42.0" lengthAdjust="spacingAndGlyphs">7570.00</text>
<text x="1502.0" y="760.5" font-size="12" fill="#3a3e49" textLength="42.0" lengthAdjust="spacingAndGlyphs">7560.00</text>
<text x="1502.0" y="793.8" font-size="12" fill="#3a3e49" textLength="42.0" lengthAdjust="spacingAndGlyphs">7550.00</text>
<path d="M1464.5 598.5H1493V615H1464.5a2.5 2.5 0 0 1-2.5-2.5V601a2.5 2.5 0 0 1 2.5-2.5z" fill="#26a69a"/>
<text x="1466.5" y="611.0" font-size="11.5" fill="#fff" font-weight="bold" textLength="22.5" lengthAdjust="spacingAndGlyphs">UKX</text>
<path d="M1494 598.5H1547.5a2.5 2.5 0 0 1 2.5 2.5V626a2.5 2.5 0 0 1-2.5 2.5H1494z" fill="#26a69a"/>
<text x="1502.0" y="611.0" font-size="12" fill="#fff" font-weight="bold" textLength="42.5" lengthAdjust="spacingAndGlyphs">7604.52</text>
<text x="1502.0" y="624.8" font-size="12" fill="#d3edea" textLength="29.2" lengthAdjust="spacingAndGlyphs">02:20</text>
<g clip-path="url(#c3t)">
<text x="53.5" y="817.6" font-size="12" fill="#3a3e49" text-anchor="middle" textLength="29.4" lengthAdjust="spacingAndGlyphs">09:00</text>
<text x="198.5" y="817.6" font-size="12" fill="#3a3e49" text-anchor="middle" textLength="29.4" lengthAdjust="spacingAndGlyphs">10:00</text>
<text x="343.5" y="817.6" font-size="12" fill="#3a3e49" text-anchor="middle" textLength="29.4" lengthAdjust="spacingAndGlyphs">11:00</text>
<text x="488.5" y="817.6" font-size="12" fill="#3a3e49" text-anchor="middle" textLength="29.4" lengthAdjust="spacingAndGlyphs">12:00</text>
<text x="633.5" y="817.6" font-size="12" fill="#3a3e49" text-anchor="middle" textLength="29.4" lengthAdjust="spacingAndGlyphs">13:00</text>
<text x="778.5" y="817.6" font-size="12" fill="#3a3e49" text-anchor="middle" textLength="29.4" lengthAdjust="spacingAndGlyphs">14:00</text>
<text x="923.5" y="817.6" font-size="12" fill="#3a3e49" text-anchor="middle" textLength="29.4" lengthAdjust="spacingAndGlyphs">15:00</text>
<text x="1068.5" y="817.6" font-size="12" fill="#3a3e49" text-anchor="middle" textLength="29.4" lengthAdjust="spacingAndGlyphs">16:00</text>
<text x="1298.5" y="817.6" font-size="12" fill="#3a3e49" text-anchor="middle" textLength="29.4" lengthAdjust="spacingAndGlyphs">09:00</text>
<text x="1443.5" y="817.6" font-size="12" fill="#3a3e49" text-anchor="middle" textLength="29.4" lengthAdjust="spacingAndGlyphs">10:00</text>
</g>
<path d="M1072 800.5H1210.5V821.5a2 2 0 0 1-2 2H1074a2 2 0 0 1-2-2z" fill="#000"/>
<text x="1080.8" y="818.6" font-size="12" fill="#fff" font-weight="bold" textLength="80.5" lengthAdjust="spacingAndGlyphs">Wed 14 Feb '24</text>
<text x="1171.3" y="818.6" font-size="12" fill="#fff" font-weight="bold" textLength="29.6" lengthAdjust="spacingAndGlyphs">16:35</text>
<g transform="translate(10,838.05) scale(0.54)" fill="#131722"><path d="M14 22H7V11H0V4h14v18zM28 22h-8l7.5-18h8L28 22z"/><circle cx="20" cy="8" r="4"/></g>
<text x="33.4" y="849.9" font-size="12.2" fill="#2a2e39" textLength="69.8" lengthAdjust="spacingAndGlyphs">TradingView</text>
<g font-family='"Noto Sans CJK SC","WenQuanYi Zen Hei","Liberation Sans",sans-serif' font-weight="900" font-size="60" stroke-linejoin="round" transform="translate(1313,819) skewX(-14)">
<mask id="wm" maskUnits="userSpaceOnUse" x="-30" y="-70" width="330" height="100"><rect x="-30" y="-70" width="330" height="100" fill="#fff"/><text x="0" y="0" fill="#000" stroke="#000" stroke-width="1.6" textLength="239" lengthAdjust="spacingAndGlyphs">海马财经</text></mask>
<filter id="wb" x="-5%" y="-20%" width="110%" height="140%"><feGaussianBlur stdDeviation="0.45"/></filter><g mask="url(#wm)" filter="url(#wb)"><text x="2.8" y="2.3" fill="#2b2d33" stroke="#2b2d33" stroke-width="1.6" opacity="0.62" textLength="239" lengthAdjust="spacingAndGlyphs">海马财经</text></g>
<text x="0" y="0" fill="#fff" stroke="#fff" stroke-width="1.6" opacity="0.62" textLength="239" lengthAdjust="spacingAndGlyphs">海马财经</text>
</g>
<g font-family='"Liberation Sans",sans-serif' font-weight="bold" font-style="italic" font-size="34">
<text x="1331.5" y="859" fill="#8a8f9c" textLength="222" lengthAdjust="spacing">zzrt01.cn</text>
<text x="1330" y="858" fill="#8ba5ff" textLength="222" lengthAdjust="spacing">zzrt01.cn</text>
</g>
</svg>
</body></html>
